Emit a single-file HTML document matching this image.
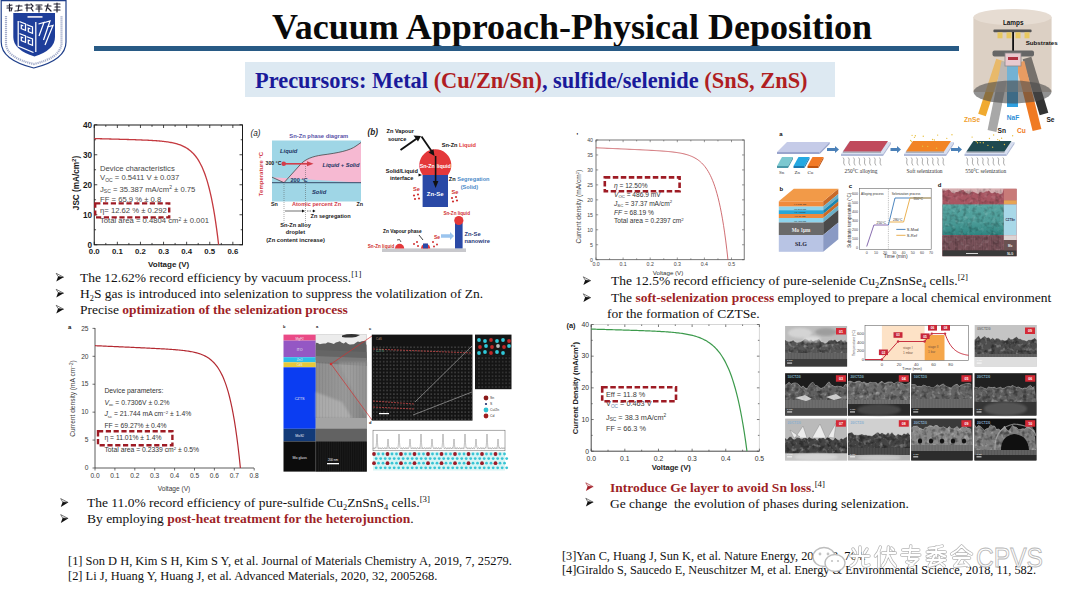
<!DOCTYPE html>
<html><head><meta charset="utf-8">
<style>
*{margin:0;padding:0;box-sizing:border-box}
html,body{width:1080px;height:608px;overflow:hidden;background:#fff}
body{position:relative;font-family:"Liberation Serif",serif;color:#111}
.a{position:absolute;white-space:nowrap}
#g{position:absolute;left:0;top:0;width:1080px;height:608px}
.t{font-size:13.5px;line-height:16px}
.rf{font-size:12.45px;line-height:15px}
.rf2{font-size:12.3px;line-height:15px}
.r{color:#9e1f27;font-weight:bold}
sub{font-size:62%;vertical-align:-3px;line-height:0}
sup{font-size:65%;vertical-align:5px;line-height:0}
</style></head><body>
<svg id="g" width="1080" height="608" viewBox="0 0 1080 608">
<defs>
<g id="arw"><path d="M0.3,0.3 L7.7,4.2 L2.2,3.6 Z" fill="none" stroke="#333" stroke-width="0.65"/><path d="M7.7,4.2 L0.4,8.6 L2.2,3.6 Z" fill="#111"/></g>
<g id="arwr"><path d="M0.3,0.3 L7.7,4.2 L2.2,3.6 Z" fill="none" stroke="#a31f28" stroke-width="0.65"/><path d="M7.7,4.2 L0.4,8.6 L2.2,3.6 Z" fill="#a31f28"/></g>
<filter id="grain" x="0" y="0" width="1" height="1"><feTurbulence type="fractalNoise" baseFrequency="0.22" numOctaves="2" seed="3"/><feColorMatrix type="matrix" values="0 0 0 0 0  0 0 0 0 0  0 0 0 0 0  3 0 0 0 -1.35"/><feGaussianBlur stdDeviation="0.45"/></filter>
<filter id="grainw" x="0" y="0" width="1" height="1"><feTurbulence type="fractalNoise" baseFrequency="0.25" numOctaves="2" seed="9"/><feColorMatrix type="matrix" values="0 0 0 0 1  0 0 0 0 1  0 0 0 0 1  0 3 0 0 -1.6"/><feGaussianBlur stdDeviation="0.45"/></filter>
<filter id="blur1"><feGaussianBlur stdDeviation="0.6"/></filter>
<filter id="blur2"><feGaussianBlur stdDeviation="1.2"/></filter>
</defs>
<g transform="translate(55.9,273)"><path d="M0.3,0.3 L7.7,4.2 L2.2,3.6 Z" fill="none" stroke="#333" stroke-width="0.65"/><path d="M7.7,4.2 L0.4,8.6 L2.2,3.6 Z" fill="#111"/></g>
<g transform="translate(55.9,289)"><path d="M0.3,0.3 L7.7,4.2 L2.2,3.6 Z" fill="none" stroke="#333" stroke-width="0.65"/><path d="M7.7,4.2 L0.4,8.6 L2.2,3.6 Z" fill="#111"/></g>
<g transform="translate(55.9,305)"><path d="M0.3,0.3 L7.7,4.2 L2.2,3.6 Z" fill="none" stroke="#333" stroke-width="0.65"/><path d="M7.7,4.2 L0.4,8.6 L2.2,3.6 Z" fill="#111"/></g>
<g transform="translate(60.4,498.3)"><path d="M0.3,0.3 L7.7,4.2 L2.2,3.6 Z" fill="none" stroke="#333" stroke-width="0.65"/><path d="M7.7,4.2 L0.4,8.6 L2.2,3.6 Z" fill="#111"/></g>
<g transform="translate(60.4,514.3)"><path d="M0.3,0.3 L7.7,4.2 L2.2,3.6 Z" fill="none" stroke="#333" stroke-width="0.65"/><path d="M7.7,4.2 L0.4,8.6 L2.2,3.6 Z" fill="#111"/></g>
<g transform="translate(583,276.5)"><path d="M0.3,0.3 L7.7,4.2 L2.2,3.6 Z" fill="none" stroke="#333" stroke-width="0.65"/><path d="M7.7,4.2 L0.4,8.6 L2.2,3.6 Z" fill="#111"/></g>
<g transform="translate(583,293.5)"><path d="M0.3,0.3 L7.7,4.2 L2.2,3.6 Z" fill="none" stroke="#333" stroke-width="0.65"/><path d="M7.7,4.2 L0.4,8.6 L2.2,3.6 Z" fill="#111"/></g>
<g transform="translate(585.5,482.5)"><path d="M0.3,0.3 L7.7,4.2 L2.2,3.6 Z" fill="none" stroke="#a31f28" stroke-width="0.65"/><path d="M7.7,4.2 L0.4,8.6 L2.2,3.6 Z" fill="#a31f28"/></g>
<g transform="translate(585.5,498)"><path d="M0.3,0.3 L7.7,4.2 L2.2,3.6 Z" fill="none" stroke="#333" stroke-width="0.65"/><path d="M7.7,4.2 L0.4,8.6 L2.2,3.6 Z" fill="#111"/></g>
<rect x="94.25" y="125" width="148.25" height="119.75" fill="none" stroke="#1a1a1a" stroke-width="1"/><line x1="94.25" y1="244.75" x2="94.25" y2="241.75" stroke="#1a1a1a" stroke-width="0.8"/><line x1="94.25" y1="125" x2="94.25" y2="128" stroke="#1a1a1a" stroke-width="0.8"/><line x1="105.8" y1="244.75" x2="105.8" y2="242.95" stroke="#1a1a1a" stroke-width="0.8"/><line x1="105.8" y1="125" x2="105.8" y2="126.8" stroke="#1a1a1a" stroke-width="0.8"/><line x1="117.35" y1="244.75" x2="117.35" y2="241.75" stroke="#1a1a1a" stroke-width="0.8"/><line x1="117.35" y1="125" x2="117.35" y2="128" stroke="#1a1a1a" stroke-width="0.8"/><line x1="128.9" y1="244.75" x2="128.9" y2="242.95" stroke="#1a1a1a" stroke-width="0.8"/><line x1="128.9" y1="125" x2="128.9" y2="126.8" stroke="#1a1a1a" stroke-width="0.8"/><line x1="140.45" y1="244.75" x2="140.45" y2="241.75" stroke="#1a1a1a" stroke-width="0.8"/><line x1="140.45" y1="125" x2="140.45" y2="128" stroke="#1a1a1a" stroke-width="0.8"/><line x1="152" y1="244.75" x2="152" y2="242.95" stroke="#1a1a1a" stroke-width="0.8"/><line x1="152" y1="125" x2="152" y2="126.8" stroke="#1a1a1a" stroke-width="0.8"/><line x1="163.55" y1="244.75" x2="163.55" y2="241.75" stroke="#1a1a1a" stroke-width="0.8"/><line x1="163.55" y1="125" x2="163.55" y2="128" stroke="#1a1a1a" stroke-width="0.8"/><line x1="175.1" y1="244.75" x2="175.1" y2="242.95" stroke="#1a1a1a" stroke-width="0.8"/><line x1="175.1" y1="125" x2="175.1" y2="126.8" stroke="#1a1a1a" stroke-width="0.8"/><line x1="186.65" y1="244.75" x2="186.65" y2="241.75" stroke="#1a1a1a" stroke-width="0.8"/><line x1="186.65" y1="125" x2="186.65" y2="128" stroke="#1a1a1a" stroke-width="0.8"/><line x1="198.2" y1="244.75" x2="198.2" y2="242.95" stroke="#1a1a1a" stroke-width="0.8"/><line x1="198.2" y1="125" x2="198.2" y2="126.8" stroke="#1a1a1a" stroke-width="0.8"/><line x1="209.75" y1="244.75" x2="209.75" y2="241.75" stroke="#1a1a1a" stroke-width="0.8"/><line x1="209.75" y1="125" x2="209.75" y2="128" stroke="#1a1a1a" stroke-width="0.8"/><line x1="221.3" y1="244.75" x2="221.3" y2="242.95" stroke="#1a1a1a" stroke-width="0.8"/><line x1="221.3" y1="125" x2="221.3" y2="126.8" stroke="#1a1a1a" stroke-width="0.8"/><line x1="232.85" y1="244.75" x2="232.85" y2="241.75" stroke="#1a1a1a" stroke-width="0.8"/><line x1="232.85" y1="125" x2="232.85" y2="128" stroke="#1a1a1a" stroke-width="0.8"/><line x1="94.25" y1="244.75" x2="97.25" y2="244.75" stroke="#1a1a1a" stroke-width="0.8"/><line x1="242.5" y1="244.75" x2="239.5" y2="244.75" stroke="#1a1a1a" stroke-width="0.8"/><line x1="94.25" y1="229.75" x2="96.05" y2="229.75" stroke="#1a1a1a" stroke-width="0.8"/><line x1="242.5" y1="229.75" x2="240.7" y2="229.75" stroke="#1a1a1a" stroke-width="0.8"/><line x1="94.25" y1="214.75" x2="97.25" y2="214.75" stroke="#1a1a1a" stroke-width="0.8"/><line x1="242.5" y1="214.75" x2="239.5" y2="214.75" stroke="#1a1a1a" stroke-width="0.8"/><line x1="94.25" y1="199.75" x2="96.05" y2="199.75" stroke="#1a1a1a" stroke-width="0.8"/><line x1="242.5" y1="199.75" x2="240.7" y2="199.75" stroke="#1a1a1a" stroke-width="0.8"/><line x1="94.25" y1="184.75" x2="97.25" y2="184.75" stroke="#1a1a1a" stroke-width="0.8"/><line x1="242.5" y1="184.75" x2="239.5" y2="184.75" stroke="#1a1a1a" stroke-width="0.8"/><line x1="94.25" y1="169.75" x2="96.05" y2="169.75" stroke="#1a1a1a" stroke-width="0.8"/><line x1="242.5" y1="169.75" x2="240.7" y2="169.75" stroke="#1a1a1a" stroke-width="0.8"/><line x1="94.25" y1="154.75" x2="97.25" y2="154.75" stroke="#1a1a1a" stroke-width="0.8"/><line x1="242.5" y1="154.75" x2="239.5" y2="154.75" stroke="#1a1a1a" stroke-width="0.8"/><line x1="94.25" y1="139.75" x2="96.05" y2="139.75" stroke="#1a1a1a" stroke-width="0.8"/><line x1="242.5" y1="139.75" x2="240.7" y2="139.75" stroke="#1a1a1a" stroke-width="0.8"/><line x1="94.25" y1="124.75" x2="97.25" y2="124.75" stroke="#1a1a1a" stroke-width="0.8"/><line x1="242.5" y1="124.75" x2="239.5" y2="124.75" stroke="#1a1a1a" stroke-width="0.8"/><text x="92" y="247.65" font-size="8.2" fill="#1a1a1a" text-anchor="end" font-weight="bold" font-style="normal" font-family="Liberation Sans" >0</text><text x="92" y="217.65" font-size="8.2" fill="#1a1a1a" text-anchor="end" font-weight="bold" font-style="normal" font-family="Liberation Sans" >10</text><text x="92" y="187.65" font-size="8.2" fill="#1a1a1a" text-anchor="end" font-weight="bold" font-style="normal" font-family="Liberation Sans" >20</text><text x="92" y="157.65" font-size="8.2" fill="#1a1a1a" text-anchor="end" font-weight="bold" font-style="normal" font-family="Liberation Sans" >30</text><text x="92" y="127.65" font-size="8.2" fill="#1a1a1a" text-anchor="end" font-weight="bold" font-style="normal" font-family="Liberation Sans" >40</text><text x="94.25" y="254" font-size="7.8" fill="#1a1a1a" text-anchor="middle" font-weight="bold" font-style="normal" font-family="Liberation Sans" >0.0</text><text x="117.35" y="254" font-size="7.8" fill="#1a1a1a" text-anchor="middle" font-weight="bold" font-style="normal" font-family="Liberation Sans" >0.1</text><text x="140.45" y="254" font-size="7.8" fill="#1a1a1a" text-anchor="middle" font-weight="bold" font-style="normal" font-family="Liberation Sans" >0.2</text><text x="163.55" y="254" font-size="7.8" fill="#1a1a1a" text-anchor="middle" font-weight="bold" font-style="normal" font-family="Liberation Sans" >0.3</text><text x="186.65" y="254" font-size="7.8" fill="#1a1a1a" text-anchor="middle" font-weight="bold" font-style="normal" font-family="Liberation Sans" >0.4</text><text x="209.75" y="254" font-size="7.8" fill="#1a1a1a" text-anchor="middle" font-weight="bold" font-style="normal" font-family="Liberation Sans" >0.5</text><text x="232.85" y="254" font-size="7.8" fill="#1a1a1a" text-anchor="middle" font-weight="bold" font-style="normal" font-family="Liberation Sans" >0.6</text><text x="168.7" y="266.8" font-size="8" fill="#1a1a1a" text-anchor="middle" font-weight="bold" font-style="normal" font-family="Liberation Sans" >Voltage (V)</text><g transform="translate(79,183) rotate(-90)"><text x="0" y="0" font-size="8.2" fill="#1a1a1a" text-anchor="middle" font-weight="bold" font-style="normal" font-family="Liberation Sans" >JSC (mA/cm<tspan dy="-3" font-size="6">2</tspan><tspan dy="3">)</tspan></text></g><path d="M94.25,138.58 L95.29,138.61 L96.32,138.63 L97.36,138.66 L98.4,138.69 L99.43,138.72 L100.47,138.74 L101.5,138.77 L102.54,138.8 L103.58,138.83 L104.61,138.85 L105.65,138.88 L106.69,138.91 L107.72,138.94 L108.76,138.97 L109.8,138.99 L110.83,139.02 L111.87,139.05 L112.91,139.08 L113.94,139.11 L114.98,139.14 L116.01,139.16 L117.05,139.19 L118.09,139.22 L119.12,139.25 L120.16,139.28 L121.2,139.31 L122.23,139.34 L123.27,139.37 L124.31,139.4 L125.34,139.43 L126.38,139.46 L127.42,139.49 L128.45,139.52 L129.49,139.56 L130.52,139.59 L131.56,139.62 L132.6,139.65 L133.63,139.69 L134.67,139.72 L135.71,139.76 L136.74,139.8 L137.78,139.83 L138.82,139.87 L139.85,139.91 L140.89,139.95 L141.92,139.99 L142.96,140.03 L144,140.08 L145.03,140.12 L146.07,140.17 L147.11,140.22 L148.14,140.27 L149.18,140.32 L150.22,140.37 L151.25,140.43 L152.29,140.49 L153.33,140.56 L154.36,140.62 L155.4,140.69 L156.43,140.77 L157.47,140.84 L158.51,140.93 L159.54,141.02 L160.58,141.11 L161.62,141.21 L162.65,141.32 L163.69,141.43 L164.73,141.55 L165.76,141.68 L166.8,141.82 L167.84,141.97 L168.87,142.13 L169.91,142.3 L170.94,142.49 L171.98,142.68 L173.02,142.9 L174.05,143.13 L175.09,143.38 L176.13,143.66 L177.16,143.95 L178.2,144.27 L179.24,144.61 L180.27,144.98 L181.31,145.39 L182.34,145.82 L183.38,146.3 L184.42,146.82 L185.45,147.38 L186.49,147.98 L187.53,148.65 L188.56,149.36 L189.6,150.15 L190.64,150.99 L191.67,151.92 L192.71,152.92 L193.75,154.02 L194.78,155.21 L195.82,156.5 L196.85,157.92 L197.89,159.45 L198.93,161.12 L199.96,162.95 L201,164.93 L202.04,167.09 L203.07,169.45 L204.11,172.01 L205.15,174.81 L206.18,177.86 L207.22,181.18 L208.26,184.8 L209.29,188.74 L210.33,193.04 L211.36,197.73 L212.4,202.84 L213.44,208.4 L214.47,214.47 L215.51,221.09 L216.55,228.31 L217.58,236.17 L218.62,244.75" fill="none" stroke="#c4393f" stroke-width="1.3"/><text x="100" y="171.2" font-size="7.7" fill="#474747" text-anchor="start" font-weight="normal" font-style="normal" font-family="Liberation Sans" >Device characteristics</text><text x="100" y="180.2" font-size="7.7" fill="#474747" text-anchor="start" font-weight="normal" font-style="normal" font-family="Liberation Sans" >V<tspan font-size="5" dy="1.8">OC</tspan><tspan dy="-1.8"> = 0.5411 V ± 0.037</tspan></text><text x="100" y="191.6" font-size="7.7" fill="#474747" text-anchor="start" font-weight="normal" font-style="normal" font-family="Liberation Sans" >J<tspan font-size="5" dy="1.8">SC</tspan><tspan dy="-1.8"> = 35.387 mA/cm</tspan><tspan font-size="5" dy="-2.5">2</tspan><tspan dy="2.5"> ± 0.75</tspan></text><text x="100" y="201.8" font-size="7.7" fill="#474747" text-anchor="start" font-weight="normal" font-style="normal" font-family="Liberation Sans" >FF = 65.9 % ± 0.8</text><text x="100" y="212.6" font-size="7.7" fill="#474747" text-anchor="start" font-weight="normal" font-style="normal" font-family="Liberation Sans" >η= 12.62 % ± 0.292</text><text x="100" y="223.2" font-size="7.7" fill="#474747" text-anchor="start" font-weight="normal" font-style="normal" font-family="Liberation Sans" >Total area = 0.4804 cm<tspan font-size="5" dy="-2.5">2</tspan><tspan dy="2.5"> ± 0.001</tspan></text><rect x="95.2" y="203.4" width="74" height="14" fill="none" stroke="#9e1b24" stroke-width="2.4" stroke-dasharray="5.2,2.6"/>
<path d="M95,328 L95,468 L254,468" fill="none" stroke="#333" stroke-width="0.8"/><line x1="92.5" y1="468" x2="95" y2="468" stroke="#333" stroke-width="0.7"/><text x="88.5" y="470.2" font-size="6.6" fill="#3a3a3a" text-anchor="end" font-weight="normal" font-style="normal" font-family="Liberation Sans" >0</text><line x1="92.5" y1="440.07" x2="95" y2="440.07" stroke="#333" stroke-width="0.7"/><text x="88.5" y="442.27" font-size="6.6" fill="#3a3a3a" text-anchor="end" font-weight="normal" font-style="normal" font-family="Liberation Sans" >5</text><line x1="92.5" y1="412.15" x2="95" y2="412.15" stroke="#333" stroke-width="0.7"/><text x="88.5" y="414.35" font-size="6.6" fill="#3a3a3a" text-anchor="end" font-weight="normal" font-style="normal" font-family="Liberation Sans" >10</text><line x1="92.5" y1="384.23" x2="95" y2="384.23" stroke="#333" stroke-width="0.7"/><text x="88.5" y="386.43" font-size="6.6" fill="#3a3a3a" text-anchor="end" font-weight="normal" font-style="normal" font-family="Liberation Sans" >15</text><line x1="92.5" y1="356.3" x2="95" y2="356.3" stroke="#333" stroke-width="0.7"/><text x="88.5" y="358.5" font-size="6.6" fill="#3a3a3a" text-anchor="end" font-weight="normal" font-style="normal" font-family="Liberation Sans" >20</text><line x1="92.5" y1="328.38" x2="95" y2="328.38" stroke="#333" stroke-width="0.7"/><text x="88.5" y="330.57" font-size="6.6" fill="#3a3a3a" text-anchor="end" font-weight="normal" font-style="normal" font-family="Liberation Sans" >25</text><line x1="95" y1="468" x2="95" y2="470.5" stroke="#333" stroke-width="0.7"/><text x="95" y="477.5" font-size="6.6" fill="#3a3a3a" text-anchor="middle" font-weight="normal" font-style="normal" font-family="Liberation Sans" >0.0</text><line x1="114.9" y1="468" x2="114.9" y2="470.5" stroke="#333" stroke-width="0.7"/><text x="114.9" y="477.5" font-size="6.6" fill="#3a3a3a" text-anchor="middle" font-weight="normal" font-style="normal" font-family="Liberation Sans" >0.1</text><line x1="134.8" y1="468" x2="134.8" y2="470.5" stroke="#333" stroke-width="0.7"/><text x="134.8" y="477.5" font-size="6.6" fill="#3a3a3a" text-anchor="middle" font-weight="normal" font-style="normal" font-family="Liberation Sans" >0.2</text><line x1="154.7" y1="468" x2="154.7" y2="470.5" stroke="#333" stroke-width="0.7"/><text x="154.7" y="477.5" font-size="6.6" fill="#3a3a3a" text-anchor="middle" font-weight="normal" font-style="normal" font-family="Liberation Sans" >0.3</text><line x1="174.6" y1="468" x2="174.6" y2="470.5" stroke="#333" stroke-width="0.7"/><text x="174.6" y="477.5" font-size="6.6" fill="#3a3a3a" text-anchor="middle" font-weight="normal" font-style="normal" font-family="Liberation Sans" >0.4</text><line x1="194.5" y1="468" x2="194.5" y2="470.5" stroke="#333" stroke-width="0.7"/><text x="194.5" y="477.5" font-size="6.6" fill="#3a3a3a" text-anchor="middle" font-weight="normal" font-style="normal" font-family="Liberation Sans" >0.5</text><line x1="214.4" y1="468" x2="214.4" y2="470.5" stroke="#333" stroke-width="0.7"/><text x="214.4" y="477.5" font-size="6.6" fill="#3a3a3a" text-anchor="middle" font-weight="normal" font-style="normal" font-family="Liberation Sans" >0.6</text><line x1="234.3" y1="468" x2="234.3" y2="470.5" stroke="#333" stroke-width="0.7"/><text x="234.3" y="477.5" font-size="6.6" fill="#3a3a3a" text-anchor="middle" font-weight="normal" font-style="normal" font-family="Liberation Sans" >0.7</text><line x1="254.2" y1="468" x2="254.2" y2="470.5" stroke="#333" stroke-width="0.7"/><text x="254.2" y="477.5" font-size="6.6" fill="#3a3a3a" text-anchor="middle" font-weight="normal" font-style="normal" font-family="Liberation Sans" >0.8</text><text x="174" y="490.5" font-size="6.6" fill="#3a3a3a" text-anchor="middle" font-weight="normal" font-style="normal" font-family="Liberation Sans" >Voltage (V)</text><g transform="translate(75,398.5) rotate(-90)"><text x="0" y="0" font-size="6.6" fill="#3a3a3a" text-anchor="middle" font-weight="normal" font-style="normal" font-family="Liberation Sans" >Current density (mA cm<tspan dy="-2.5" font-size="4.6">−2</tspan><tspan dy="2.5">)</tspan></text></g><text x="68" y="328.5" font-size="6" fill="#111" text-anchor="start" font-weight="bold" font-style="normal" font-family="Liberation Sans" >a</text><path d="M95,345.69 L96.21,345.74 L97.42,345.8 L98.63,345.85 L99.85,345.91 L101.06,345.96 L102.27,346.02 L103.48,346.07 L104.69,346.12 L105.9,346.18 L107.12,346.23 L108.33,346.29 L109.54,346.34 L110.75,346.4 L111.96,346.45 L113.17,346.51 L114.39,346.56 L115.6,346.62 L116.81,346.67 L118.02,346.72 L119.23,346.78 L120.44,346.83 L121.65,346.89 L122.87,346.94 L124.08,347 L125.29,347.05 L126.5,347.11 L127.71,347.16 L128.92,347.22 L130.14,347.27 L131.35,347.33 L132.56,347.38 L133.77,347.44 L134.98,347.5 L136.19,347.55 L137.41,347.61 L138.62,347.66 L139.83,347.72 L141.04,347.78 L142.25,347.83 L143.46,347.89 L144.67,347.95 L145.89,348.01 L147.1,348.06 L148.31,348.12 L149.52,348.18 L150.73,348.24 L151.94,348.3 L153.16,348.36 L154.37,348.42 L155.58,348.48 L156.79,348.55 L158,348.61 L159.21,348.67 L160.43,348.74 L161.64,348.81 L162.85,348.87 L164.06,348.94 L165.27,349.02 L166.48,349.09 L167.69,349.17 L168.91,349.24 L170.12,349.32 L171.33,349.41 L172.54,349.49 L173.75,349.58 L174.96,349.68 L176.18,349.78 L177.39,349.88 L178.6,349.99 L179.81,350.1 L181.02,350.23 L182.23,350.36 L183.45,350.49 L184.66,350.64 L185.87,350.8 L187.08,350.97 L188.29,351.15 L189.5,351.34 L190.71,351.55 L191.93,351.78 L193.14,352.03 L194.35,352.29 L195.56,352.59 L196.77,352.9 L197.98,353.25 L199.2,353.63 L200.41,354.05 L201.62,354.5 L202.83,355 L204.04,355.55 L205.25,356.15 L206.47,356.82 L207.68,357.55 L208.89,358.36 L210.1,359.25 L211.31,360.23 L212.52,361.32 L213.73,362.52 L214.95,363.85 L216.16,365.32 L217.37,366.94 L218.58,368.74 L219.79,370.73 L221,372.94 L222.22,375.38 L223.43,378.09 L224.64,381.09 L225.85,384.42 L227.06,388.11 L228.27,392.2 L229.49,396.74 L230.7,401.78 L231.91,407.37 L233.12,413.57 L234.33,420.45 L235.54,428.08 L236.75,436.56 L237.97,445.97 L239.18,456.41 L240.39,468" fill="none" stroke="#b42a32" stroke-width="1.2"/><text x="104.4" y="393" font-size="6.8" fill="#333" text-anchor="start" font-weight="normal" font-style="normal" font-family="Liberation Sans" >Device parameters:</text><text x="104.4" y="404.6" font-size="6.8" fill="#333" text-anchor="start" font-weight="normal" font-style="normal" font-family="Liberation Sans" ><tspan font-style="italic">V</tspan><tspan font-size="4.3" dy="1.5">oc</tspan><tspan dy="-1.5"> = 0.7306V ± 0.2%</tspan></text><text x="104.4" y="416.4" font-size="6.8" fill="#333" text-anchor="start" font-weight="normal" font-style="normal" font-family="Liberation Sans" ><tspan font-style="italic">J</tspan><tspan font-size="4.3" dy="1.5">sc</tspan><tspan dy="-1.5"> = 21.744 mA cm</tspan><tspan font-size="4.3" dy="-2.4">−2</tspan><tspan dy="2.4"> ± 1.4%</tspan></text><text x="104.4" y="427.6" font-size="6.8" fill="#333" text-anchor="start" font-weight="normal" font-style="normal" font-family="Liberation Sans" >FF = 69.27% ± 0.4%</text><text x="104.4" y="440.2" font-size="6.8" fill="#333" text-anchor="start" font-weight="normal" font-style="normal" font-family="Liberation Sans" >η = 11.01% ± 1.4%</text><text x="104.4" y="452" font-size="6.8" fill="#333" text-anchor="start" font-weight="normal" font-style="normal" font-family="Liberation Sans" >Total area = 0.2339 cm<tspan font-size="4.3" dy="-2.4">2</tspan><tspan dy="2.4"> ± 0.5%</tspan></text><rect x="98" y="431.2" width="74.4" height="14" fill="none" stroke="#9e1b24" stroke-width="2.4" stroke-dasharray="5.2,2.6"/>
<rect x="596" y="140" width="148.2" height="119.7" fill="none" stroke="#555" stroke-width="0.8"/><line x1="596" y1="259.7" x2="596" y2="257.5" stroke="#555" stroke-width="0.6"/><line x1="596" y1="140" x2="596" y2="142.2" stroke="#555" stroke-width="0.6"/><line x1="609.55" y1="259.7" x2="609.55" y2="258.3" stroke="#555" stroke-width="0.6"/><line x1="609.55" y1="140" x2="609.55" y2="141.4" stroke="#555" stroke-width="0.6"/><line x1="623.1" y1="259.7" x2="623.1" y2="257.5" stroke="#555" stroke-width="0.6"/><line x1="623.1" y1="140" x2="623.1" y2="142.2" stroke="#555" stroke-width="0.6"/><line x1="636.65" y1="259.7" x2="636.65" y2="258.3" stroke="#555" stroke-width="0.6"/><line x1="636.65" y1="140" x2="636.65" y2="141.4" stroke="#555" stroke-width="0.6"/><line x1="650.2" y1="259.7" x2="650.2" y2="257.5" stroke="#555" stroke-width="0.6"/><line x1="650.2" y1="140" x2="650.2" y2="142.2" stroke="#555" stroke-width="0.6"/><line x1="663.75" y1="259.7" x2="663.75" y2="258.3" stroke="#555" stroke-width="0.6"/><line x1="663.75" y1="140" x2="663.75" y2="141.4" stroke="#555" stroke-width="0.6"/><line x1="677.3" y1="259.7" x2="677.3" y2="257.5" stroke="#555" stroke-width="0.6"/><line x1="677.3" y1="140" x2="677.3" y2="142.2" stroke="#555" stroke-width="0.6"/><line x1="690.85" y1="259.7" x2="690.85" y2="258.3" stroke="#555" stroke-width="0.6"/><line x1="690.85" y1="140" x2="690.85" y2="141.4" stroke="#555" stroke-width="0.6"/><line x1="704.4" y1="259.7" x2="704.4" y2="257.5" stroke="#555" stroke-width="0.6"/><line x1="704.4" y1="140" x2="704.4" y2="142.2" stroke="#555" stroke-width="0.6"/><line x1="717.95" y1="259.7" x2="717.95" y2="258.3" stroke="#555" stroke-width="0.6"/><line x1="717.95" y1="140" x2="717.95" y2="141.4" stroke="#555" stroke-width="0.6"/><line x1="731.5" y1="259.7" x2="731.5" y2="257.5" stroke="#555" stroke-width="0.6"/><line x1="731.5" y1="140" x2="731.5" y2="142.2" stroke="#555" stroke-width="0.6"/><line x1="596" y1="259.7" x2="598.2" y2="259.7" stroke="#555" stroke-width="0.6"/><line x1="744.2" y1="259.7" x2="742" y2="259.7" stroke="#555" stroke-width="0.6"/><line x1="596" y1="244.74" x2="598.2" y2="244.74" stroke="#555" stroke-width="0.6"/><line x1="744.2" y1="244.74" x2="742" y2="244.74" stroke="#555" stroke-width="0.6"/><line x1="596" y1="229.77" x2="598.2" y2="229.77" stroke="#555" stroke-width="0.6"/><line x1="744.2" y1="229.77" x2="742" y2="229.77" stroke="#555" stroke-width="0.6"/><line x1="596" y1="214.81" x2="598.2" y2="214.81" stroke="#555" stroke-width="0.6"/><line x1="744.2" y1="214.81" x2="742" y2="214.81" stroke="#555" stroke-width="0.6"/><line x1="596" y1="199.85" x2="598.2" y2="199.85" stroke="#555" stroke-width="0.6"/><line x1="744.2" y1="199.85" x2="742" y2="199.85" stroke="#555" stroke-width="0.6"/><line x1="596" y1="184.89" x2="598.2" y2="184.89" stroke="#555" stroke-width="0.6"/><line x1="744.2" y1="184.89" x2="742" y2="184.89" stroke="#555" stroke-width="0.6"/><line x1="596" y1="169.92" x2="598.2" y2="169.92" stroke="#555" stroke-width="0.6"/><line x1="744.2" y1="169.92" x2="742" y2="169.92" stroke="#555" stroke-width="0.6"/><line x1="596" y1="154.96" x2="598.2" y2="154.96" stroke="#555" stroke-width="0.6"/><line x1="744.2" y1="154.96" x2="742" y2="154.96" stroke="#555" stroke-width="0.6"/><line x1="596" y1="140" x2="598.2" y2="140" stroke="#555" stroke-width="0.6"/><line x1="744.2" y1="140" x2="742" y2="140" stroke="#555" stroke-width="0.6"/><text x="593" y="261.5" font-size="5.2" fill="#444" text-anchor="end" font-weight="normal" font-style="normal" font-family="Liberation Sans" >0</text><text x="593" y="246.54" font-size="5.2" fill="#444" text-anchor="end" font-weight="normal" font-style="normal" font-family="Liberation Sans" >5</text><text x="593" y="231.57" font-size="5.2" fill="#444" text-anchor="end" font-weight="normal" font-style="normal" font-family="Liberation Sans" >10</text><text x="593" y="216.61" font-size="5.2" fill="#444" text-anchor="end" font-weight="normal" font-style="normal" font-family="Liberation Sans" >15</text><text x="593" y="201.65" font-size="5.2" fill="#444" text-anchor="end" font-weight="normal" font-style="normal" font-family="Liberation Sans" >20</text><text x="593" y="186.69" font-size="5.2" fill="#444" text-anchor="end" font-weight="normal" font-style="normal" font-family="Liberation Sans" >25</text><text x="593" y="171.72" font-size="5.2" fill="#444" text-anchor="end" font-weight="normal" font-style="normal" font-family="Liberation Sans" >30</text><text x="593" y="156.76" font-size="5.2" fill="#444" text-anchor="end" font-weight="normal" font-style="normal" font-family="Liberation Sans" >35</text><text x="593" y="141.8" font-size="5.2" fill="#444" text-anchor="end" font-weight="normal" font-style="normal" font-family="Liberation Sans" >40</text><text x="596" y="265.5" font-size="5.2" fill="#444" text-anchor="middle" font-weight="normal" font-style="normal" font-family="Liberation Sans" >0.0</text><text x="623.1" y="265.5" font-size="5.2" fill="#444" text-anchor="middle" font-weight="normal" font-style="normal" font-family="Liberation Sans" >0.1</text><text x="650.2" y="265.5" font-size="5.2" fill="#444" text-anchor="middle" font-weight="normal" font-style="normal" font-family="Liberation Sans" >0.2</text><text x="677.3" y="265.5" font-size="5.2" fill="#444" text-anchor="middle" font-weight="normal" font-style="normal" font-family="Liberation Sans" >0.3</text><text x="704.4" y="265.5" font-size="5.2" fill="#444" text-anchor="middle" font-weight="normal" font-style="normal" font-family="Liberation Sans" >0.4</text><text x="731.5" y="265.5" font-size="5.2" fill="#444" text-anchor="middle" font-weight="normal" font-style="normal" font-family="Liberation Sans" >0.5</text><text x="668" y="274.6" font-size="6.2" fill="#333" text-anchor="middle" font-weight="normal" font-style="normal" font-family="Liberation Sans" >Voltage (V)</text><g transform="translate(581.2,206.6) rotate(-90)"><text x="0" y="0" font-size="6.6" fill="#444" text-anchor="middle" font-weight="normal" font-style="normal" font-family="Liberation Sans" >Current density (mA/cm<tspan dy="-2.3" font-size="4.3">2</tspan><tspan dy="2.3">)</tspan></text></g><text x="576.5" y="138" font-size="7" fill="#111" text-anchor="start" font-weight="bold" font-style="normal" font-family="Liberation Sans" >'</text><path d="M596,147.78 L597.1,147.83 L598.2,147.88 L599.3,147.93 L600.4,147.98 L601.5,148.02 L602.6,148.07 L603.7,148.12 L604.8,148.17 L605.9,148.22 L607,148.27 L608.1,148.32 L609.19,148.37 L610.29,148.41 L611.39,148.46 L612.49,148.51 L613.59,148.56 L614.69,148.61 L615.79,148.66 L616.89,148.71 L617.99,148.76 L619.09,148.81 L620.19,148.86 L621.29,148.91 L622.39,148.96 L623.49,149 L624.59,149.05 L625.69,149.1 L626.79,149.15 L627.89,149.2 L628.99,149.25 L630.09,149.3 L631.19,149.36 L632.29,149.41 L633.39,149.46 L634.49,149.51 L635.58,149.56 L636.68,149.61 L637.78,149.66 L638.88,149.72 L639.98,149.77 L641.08,149.82 L642.18,149.88 L643.28,149.93 L644.38,149.99 L645.48,150.04 L646.58,150.1 L647.68,150.15 L648.78,150.21 L649.88,150.27 L650.98,150.33 L652.08,150.39 L653.18,150.45 L654.28,150.52 L655.38,150.58 L656.48,150.65 L657.58,150.72 L658.68,150.79 L659.78,150.86 L660.88,150.94 L661.97,151.02 L663.07,151.1 L664.17,151.18 L665.27,151.27 L666.37,151.36 L667.47,151.46 L668.57,151.56 L669.67,151.67 L670.77,151.78 L671.87,151.9 L672.97,152.03 L674.07,152.16 L675.17,152.3 L676.27,152.46 L677.37,152.62 L678.47,152.8 L679.57,152.98 L680.67,153.18 L681.77,153.4 L682.87,153.64 L683.97,153.89 L685.07,154.16 L686.17,154.46 L687.27,154.78 L688.36,155.13 L689.46,155.52 L690.56,155.93 L691.66,156.38 L692.76,156.87 L693.86,157.41 L694.96,158 L696.06,158.64 L697.16,159.34 L698.26,160.11 L699.36,160.95 L700.46,161.87 L701.56,162.88 L702.66,163.99 L703.76,165.21 L704.86,166.54 L705.96,168 L707.06,169.61 L708.16,171.37 L709.26,173.31 L710.36,175.45 L711.46,177.79 L712.56,180.36 L713.66,183.19 L714.75,186.31 L715.85,189.73 L716.95,193.5 L718.05,197.64 L719.15,202.2 L720.25,207.22 L721.35,212.74 L722.45,218.81 L723.55,225.5 L724.65,232.86 L725.75,240.96 L726.85,249.88 L727.95,259.7" fill="none" stroke="#c44a50" stroke-width="0.8"/><text x="614" y="188.4" font-size="6.6" fill="#333" text-anchor="start" font-weight="normal" font-style="normal" font-family="Liberation Sans" ><tspan font-style="italic">η</tspan> = 12.50%</text><text x="614" y="196.6" font-size="6.6" fill="#333" text-anchor="start" font-weight="normal" font-style="normal" font-family="Liberation Sans" ><tspan font-style="italic">V</tspan><tspan font-size="4.3" dy="1.5">OC</tspan><tspan dy="-1.5"> = 486.9 mV</tspan></text><text x="614" y="205.6" font-size="6.6" fill="#333" text-anchor="start" font-weight="normal" font-style="normal" font-family="Liberation Sans" ><tspan font-style="italic">J</tspan><tspan font-size="4.3" dy="1.5">SC</tspan><tspan dy="-1.5"> = 37.37 mA/cm</tspan><tspan font-size="4.3" dy="-2.4">2</tspan><tspan dy="2.4"></tspan></text><text x="614" y="214.7" font-size="6.6" fill="#333" text-anchor="start" font-weight="normal" font-style="normal" font-family="Liberation Sans" ><tspan font-style="italic">FF</tspan> = 68.19 %</text><text x="614" y="223.1" font-size="6.6" fill="#333" text-anchor="start" font-weight="normal" font-style="normal" font-family="Liberation Sans" >Total area = 0.2397 cm<tspan font-size="4.3" dy="-2.4">2</tspan></text><rect x="604.8" y="177.4" width="74.8" height="13.8" fill="none" stroke="#9e1b24" stroke-width="2.6" stroke-dasharray="5.5,2.5"/>
<path d="M591.2,324.5 L591.2,451.2 L759.4,451.2" fill="none" stroke="#333" stroke-width="0.9"/><path d="M591.2,324.5 L759.4,324.5 L759.4,451.2" fill="none" stroke="#bbb" stroke-width="0.6"/><line x1="591.2" y1="451.2" x2="591.2" y2="448.7" stroke="#444" stroke-width="0.7"/><line x1="591.2" y1="324.5" x2="591.2" y2="327" stroke="#444" stroke-width="0.7"/><line x1="608.02" y1="451.2" x2="608.02" y2="449.7" stroke="#444" stroke-width="0.7"/><line x1="608.02" y1="324.5" x2="608.02" y2="326" stroke="#444" stroke-width="0.7"/><line x1="624.84" y1="451.2" x2="624.84" y2="448.7" stroke="#444" stroke-width="0.7"/><line x1="624.84" y1="324.5" x2="624.84" y2="327" stroke="#444" stroke-width="0.7"/><line x1="641.66" y1="451.2" x2="641.66" y2="449.7" stroke="#444" stroke-width="0.7"/><line x1="641.66" y1="324.5" x2="641.66" y2="326" stroke="#444" stroke-width="0.7"/><line x1="658.48" y1="451.2" x2="658.48" y2="448.7" stroke="#444" stroke-width="0.7"/><line x1="658.48" y1="324.5" x2="658.48" y2="327" stroke="#444" stroke-width="0.7"/><line x1="675.3" y1="451.2" x2="675.3" y2="449.7" stroke="#444" stroke-width="0.7"/><line x1="675.3" y1="324.5" x2="675.3" y2="326" stroke="#444" stroke-width="0.7"/><line x1="692.12" y1="451.2" x2="692.12" y2="448.7" stroke="#444" stroke-width="0.7"/><line x1="692.12" y1="324.5" x2="692.12" y2="327" stroke="#444" stroke-width="0.7"/><line x1="708.94" y1="451.2" x2="708.94" y2="449.7" stroke="#444" stroke-width="0.7"/><line x1="708.94" y1="324.5" x2="708.94" y2="326" stroke="#444" stroke-width="0.7"/><line x1="725.76" y1="451.2" x2="725.76" y2="448.7" stroke="#444" stroke-width="0.7"/><line x1="725.76" y1="324.5" x2="725.76" y2="327" stroke="#444" stroke-width="0.7"/><line x1="742.58" y1="451.2" x2="742.58" y2="449.7" stroke="#444" stroke-width="0.7"/><line x1="742.58" y1="324.5" x2="742.58" y2="326" stroke="#444" stroke-width="0.7"/><line x1="759.4" y1="451.2" x2="759.4" y2="448.7" stroke="#444" stroke-width="0.7"/><line x1="759.4" y1="324.5" x2="759.4" y2="327" stroke="#444" stroke-width="0.7"/><line x1="591.2" y1="451.2" x2="593.7" y2="451.2" stroke="#444" stroke-width="0.7"/><line x1="759.4" y1="451.2" x2="756.9" y2="451.2" stroke="#444" stroke-width="0.7"/><line x1="591.2" y1="435.36" x2="592.7" y2="435.36" stroke="#444" stroke-width="0.7"/><line x1="759.4" y1="435.36" x2="757.9" y2="435.36" stroke="#444" stroke-width="0.7"/><line x1="591.2" y1="419.52" x2="593.7" y2="419.52" stroke="#444" stroke-width="0.7"/><line x1="759.4" y1="419.52" x2="756.9" y2="419.52" stroke="#444" stroke-width="0.7"/><line x1="591.2" y1="403.69" x2="592.7" y2="403.69" stroke="#444" stroke-width="0.7"/><line x1="759.4" y1="403.69" x2="757.9" y2="403.69" stroke="#444" stroke-width="0.7"/><line x1="591.2" y1="387.85" x2="593.7" y2="387.85" stroke="#444" stroke-width="0.7"/><line x1="759.4" y1="387.85" x2="756.9" y2="387.85" stroke="#444" stroke-width="0.7"/><line x1="591.2" y1="372.01" x2="592.7" y2="372.01" stroke="#444" stroke-width="0.7"/><line x1="759.4" y1="372.01" x2="757.9" y2="372.01" stroke="#444" stroke-width="0.7"/><line x1="591.2" y1="356.17" x2="593.7" y2="356.17" stroke="#444" stroke-width="0.7"/><line x1="759.4" y1="356.17" x2="756.9" y2="356.17" stroke="#444" stroke-width="0.7"/><line x1="591.2" y1="340.34" x2="592.7" y2="340.34" stroke="#444" stroke-width="0.7"/><line x1="759.4" y1="340.34" x2="757.9" y2="340.34" stroke="#444" stroke-width="0.7"/><line x1="591.2" y1="324.5" x2="593.7" y2="324.5" stroke="#444" stroke-width="0.7"/><line x1="759.4" y1="324.5" x2="756.9" y2="324.5" stroke="#444" stroke-width="0.7"/><text x="589" y="453.5" font-size="6.8" fill="#333" text-anchor="end" font-weight="normal" font-style="normal" font-family="Liberation Sans" >0</text><text x="589" y="421.82" font-size="6.8" fill="#333" text-anchor="end" font-weight="normal" font-style="normal" font-family="Liberation Sans" >10</text><text x="589" y="390.15" font-size="6.8" fill="#333" text-anchor="end" font-weight="normal" font-style="normal" font-family="Liberation Sans" >20</text><text x="589" y="358.47" font-size="6.8" fill="#333" text-anchor="end" font-weight="normal" font-style="normal" font-family="Liberation Sans" >30</text><text x="589" y="326.8" font-size="6.8" fill="#333" text-anchor="end" font-weight="normal" font-style="normal" font-family="Liberation Sans" >40</text><text x="591.2" y="460.5" font-size="6.8" fill="#333" text-anchor="middle" font-weight="normal" font-style="normal" font-family="Liberation Sans" >0.0</text><text x="624.84" y="460.5" font-size="6.8" fill="#333" text-anchor="middle" font-weight="normal" font-style="normal" font-family="Liberation Sans" >0.1</text><text x="658.48" y="460.5" font-size="6.8" fill="#333" text-anchor="middle" font-weight="normal" font-style="normal" font-family="Liberation Sans" >0.2</text><text x="692.12" y="460.5" font-size="6.8" fill="#333" text-anchor="middle" font-weight="normal" font-style="normal" font-family="Liberation Sans" >0.3</text><text x="725.76" y="460.5" font-size="6.8" fill="#333" text-anchor="middle" font-weight="normal" font-style="normal" font-family="Liberation Sans" >0.4</text><text x="759.4" y="460.5" font-size="6.8" fill="#333" text-anchor="middle" font-weight="normal" font-style="normal" font-family="Liberation Sans" >0.5</text><text x="671.2" y="470.4" font-size="7.6" fill="#222" text-anchor="middle" font-weight="bold" font-style="normal" font-family="Liberation Sans" >Voltage (V)</text><g transform="translate(577.6,388) rotate(-90)"><text x="0" y="0" font-size="7.6" fill="#222" text-anchor="middle" font-weight="bold" font-style="normal" font-family="Liberation Sans" >Current Density (mA/cm<tspan dy="-2.6" font-size="5">2</tspan><tspan dy="2.6">)</tspan></text></g><text x="566.5" y="327.6" font-size="7.4" fill="#222" text-anchor="start" font-weight="bold" font-style="normal" font-family="Liberation Sans" >(a)</text><path d="M591.2,329.09 L592.5,329.13 L593.8,329.17 L595.09,329.2 L596.39,329.24 L597.69,329.28 L598.99,329.32 L600.29,329.35 L601.58,329.39 L602.88,329.43 L604.18,329.47 L605.48,329.5 L606.78,329.54 L608.07,329.58 L609.37,329.62 L610.67,329.66 L611.97,329.69 L613.27,329.73 L614.56,329.77 L615.86,329.81 L617.16,329.85 L618.46,329.89 L619.75,329.93 L621.05,329.97 L622.35,330.01 L623.65,330.05 L624.95,330.09 L626.24,330.13 L627.54,330.17 L628.84,330.21 L630.14,330.25 L631.44,330.29 L632.73,330.33 L634.03,330.38 L635.33,330.42 L636.63,330.47 L637.93,330.51 L639.22,330.56 L640.52,330.6 L641.82,330.65 L643.12,330.7 L644.42,330.75 L645.71,330.8 L647.01,330.85 L648.31,330.9 L649.61,330.96 L650.91,331.01 L652.2,331.07 L653.5,331.13 L654.8,331.19 L656.1,331.25 L657.4,331.32 L658.69,331.39 L659.99,331.46 L661.29,331.53 L662.59,331.61 L663.88,331.69 L665.18,331.77 L666.48,331.86 L667.78,331.96 L669.08,332.06 L670.37,332.16 L671.67,332.27 L672.97,332.39 L674.27,332.51 L675.57,332.64 L676.86,332.78 L678.16,332.93 L679.46,333.08 L680.76,333.25 L682.06,333.43 L683.35,333.62 L684.65,333.83 L685.95,334.05 L687.25,334.29 L688.55,334.54 L689.84,334.81 L691.14,335.11 L692.44,335.42 L693.74,335.76 L695.04,336.13 L696.33,336.53 L697.63,336.95 L698.93,337.42 L700.23,337.91 L701.53,338.45 L702.82,339.04 L704.12,339.67 L705.42,340.35 L706.72,341.09 L708.01,341.89 L709.31,342.76 L710.61,343.7 L711.91,344.72 L713.21,345.83 L714.5,347.03 L715.8,348.33 L717.1,349.74 L718.4,351.28 L719.7,352.94 L720.99,354.75 L722.29,356.71 L723.59,358.84 L724.89,361.15 L726.19,363.66 L727.48,366.39 L728.78,369.35 L730.08,372.57 L731.38,376.07 L732.68,379.87 L733.97,384 L735.27,388.49 L736.57,393.37 L737.87,398.67 L739.17,404.43 L740.46,410.69 L741.76,417.5 L743.06,424.9 L744.36,432.95 L745.66,441.69 L746.95,451.2" fill="none" stroke="#3c9a4c" stroke-width="1.2"/><text x="606" y="397.4" font-size="7.3" fill="#3a3a3a" text-anchor="start" font-weight="normal" font-style="normal" font-family="Liberation Sans" >Eff = 11.8 %</text><text x="606" y="406.3" font-size="7.3" fill="#3a3a3a" text-anchor="start" font-weight="normal" font-style="normal" font-family="Liberation Sans" >V<tspan font-size="4.8" dy="1.6" fill="#6a8ab0">OC</tspan><tspan dy="-1.6"> = 0.463 V</tspan></text><text x="606" y="419.6" font-size="7.3" fill="#3a3a3a" text-anchor="start" font-weight="normal" font-style="normal" font-family="Liberation Sans" >J<tspan font-size="4.8" dy="1.6">SC</tspan><tspan dy="-1.6"> = 38.3 mA/cm</tspan><tspan font-size="4.8" dy="-2.6">2</tspan></text><text x="606" y="430.5" font-size="7.3" fill="#3a3a3a" text-anchor="start" font-weight="normal" font-style="normal" font-family="Liberation Sans" >FF = 66.3 %</text><rect x="602.2" y="387.2" width="73.8" height="14" fill="none" stroke="#9e1b24" stroke-width="2.6" stroke-dasharray="5.5,2.6"/>
<g><path d="M1.2,0.6 L66,0.6 L66,42 Q66,60 33.8,68 Q1.2,60 1.2,42 Z" fill="#fff" stroke="#1f3f8a" stroke-width="1.2"/><path d="M13.3,13 L55,13 L55,37 Q55,50 34.5,56.5 Q13.3,50 13.3,37 Z" fill="#1e3e9a"/><g fill="none" stroke="#fff" stroke-width="1.25"><path transform="translate(19.5,21.5) skewY(22)" d="M0,0 h6 v6.5 h-4.2 v-3.6 h2"/><path transform="translate(26.5,24.5) skewY(22)" d="M0,0 h6 v6.5 h-4.2 v-3.6 h2"/><path transform="translate(19.5,33.5) skewY(22)" d="M0,0 h6 v6.5 h-4.2 v-3.6 h2"/><path transform="translate(26.5,36.5) skewY(22)" d="M0,0 h6 v6.5 h-4.2 v-3.6 h2"/><path d="M18.2,21 L18.2,46 L33.5,52.5"/><path d="M35.8,22 L35.8,52"/><path d="M38.5,24 L44,22.5 L39,36 M43,23 L50,21 L43.5,40 M47,27 L53,25.5 L45,45"/></g><rect x="27.5" y="16" width="15" height="1.8" fill="#dde"/><g stroke="#223" stroke-width="1.2" fill="none" stroke-linecap="round"><path d="M7,6 L12,5 M9.5,4 L9.5,11 M7,8 L12,8 L11,11"/><path d="M16,6 L22,6 M19,5 L18,11 M15,11 L22,10"/><path d="M25,5 L30,5 M26,8 L30,8 M27,4 L27,11 M31,4 L33,6 L31,8 L33,11"/><path d="M36,5 L42,5 M37,7 L41,7 M36,9 L42,9 M39,6 L39,12"/><path d="M45,6 L51,6 M48,4 L46,11 M48,8 L51,11"/><path d="M54,4 L60,4 M55,7 L60,7 M57,3 L57,12 M54,10 L60,10"/></g><path d="M6,16 L6,44 Q7,58 33.8,64 Q60,58 61.5,44 L61.5,16" fill="none" stroke="#5a6aa0" stroke-width="2.2" stroke-dasharray="1.2,0.8" opacity="0.55"/></g>
<text x="250.5" y="136" font-size="8.2" fill="#222" text-anchor="start" font-weight="normal" font-style="italic" font-family="Liberation Sans" >(a)</text><text x="318.8" y="137.6" font-size="5.8" fill="#5a52a8" text-anchor="middle" font-weight="bold" font-style="normal" font-family="Liberation Sans" >Sn-Zn phase diagram</text><rect x="272" y="140.5" width="89" height="61" fill="#9fd6e6"/><path d="M272,177.2 L284,182.7 L301,163.8 C306,159 312,156.5 322,155 C338,153 350,150.5 356,146 L361,142.5 L361,182.7 Z" fill="#f6b9d2"/><path d="M272,177.2 L284,182.7 L301,163.8 C306,159 312,156.5 322,155 C338,153 350,150.5 356,146 L361,142.5" fill="none" stroke="#333" stroke-width="0.7"/><line x1="272" y1="182.7" x2="361" y2="182.7" stroke="#2a3a5a" stroke-width="0.9"/><text x="280" y="153" font-size="5.8" fill="#213463" text-anchor="start" font-weight="bold" font-style="italic" font-family="Liberation Sans" >Liquid</text><text x="322.5" y="166.6" font-size="5.6" fill="#213463" text-anchor="start" font-weight="bold" font-style="italic" font-family="Liberation Sans" >Liquid + Solid</text><text x="290.5" y="181.6" font-size="5.6" fill="#213463" text-anchor="start" font-weight="bold" font-style="normal" font-family="Liberation Sans" >200 °C</text><text x="312" y="194.4" font-size="5.8" fill="#213463" text-anchor="start" font-weight="bold" font-style="italic" font-family="Liberation Sans" >Solid</text><text x="265.5" y="165.2" font-size="5.2" fill="#222" text-anchor="start" font-weight="bold" font-style="normal" font-family="Liberation Sans" >300 °C</text><line x1="284" y1="163.8" x2="309" y2="163.8" stroke="#d23d4a" stroke-width="1.6"/><path d="M307,161.3 L313.5,163.8 L307,166.3 Z" fill="#d23d4a"/><circle cx="283.7" cy="163.8" r="2.3" fill="#d23d4a"/><g transform="translate(262.6,174) rotate(-90)"><text x="0" y="0" font-size="6" fill="#d23d4a" text-anchor="middle" font-weight="bold" font-style="normal" font-family="Liberation Sans" >Temperature °C</text></g><text x="271" y="206.2" font-size="5.4" fill="#222" text-anchor="start" font-weight="bold" font-style="normal" font-family="Liberation Sans" >Sn</text><text x="356.5" y="206.2" font-size="5.4" fill="#222" text-anchor="start" font-weight="bold" font-style="normal" font-family="Liberation Sans" >Zn</text><text x="316.5" y="206.2" font-size="5.6" fill="#d23d4a" text-anchor="middle" font-weight="bold" font-style="normal" font-family="Liberation Sans" >Atomic percent Zn</text><line x1="284" y1="184" x2="284" y2="223" stroke="#555" stroke-width="0.5" stroke-dasharray="1,1"/><line x1="305.5" y1="166" x2="305.5" y2="223" stroke="#555" stroke-width="0.5" stroke-dasharray="1,1"/><line x1="285" y1="211" x2="302" y2="211" stroke="#111" stroke-width="0.6"/><path d="M302,209.5 L305,211 L302,212.5Z" fill="#111"/><line x1="307" y1="211" x2="313" y2="211" stroke="#111" stroke-width="0.6" stroke-dasharray="1.5,1"/><path d="M313,209.6 L315.5,211 L313,212.4Z" fill="#111"/><text x="310.6" y="218.4" font-size="5.6" fill="#222" text-anchor="start" font-weight="bold" font-style="normal" font-family="Liberation Sans" >Zn segregation</text><text x="295.5" y="227.2" font-size="5.7" fill="#222" text-anchor="middle" font-weight="bold" font-style="normal" font-family="Liberation Sans" >Sn-Zn alloy</text><text x="295.5" y="234" font-size="5.7" fill="#222" text-anchor="middle" font-weight="bold" font-style="normal" font-family="Liberation Sans" >droplet</text><text x="295.5" y="241.6" font-size="5.8" fill="#222" text-anchor="middle" font-weight="bold" font-style="normal" font-family="Liberation Sans" >(Zn content increase)</text>
<text x="367.5" y="135.4" font-size="8.2" fill="#222" text-anchor="start" font-weight="bold" font-style="italic" font-family="Liberation Sans" >(b)</text><text x="386.5" y="133.4" font-size="5.6" fill="#111" text-anchor="start" font-weight="bold" font-style="normal" font-family="Liberation Sans" >Zn Vapour</text><text x="388" y="140.9" font-size="5.6" fill="#111" text-anchor="start" font-weight="bold" font-style="normal" font-family="Liberation Sans" >source</text><line x1="400.5" y1="150" x2="416.5" y2="138.8" stroke="#111" stroke-width="2"/><path d="M413.5,135.5 L421,136 L418,141.5Z" fill="#111"/><text x="441.7" y="146.9" font-size="5.6" fill="#111" text-anchor="start" font-weight="bold" font-style="normal" font-family="Liberation Sans" >Sn-Zn <tspan fill="#e03a3a">Liquid</tspan></text><path d="M422.6,175 A16,16 0 1 1 448,175 Z" fill="#e4383a"/><rect x="422.6" y="175" width="25.4" height="32" fill="#2a49a6"/><text x="435.2" y="167.6" font-size="5.4" fill="#fff" text-anchor="middle" font-weight="bold" font-style="normal" font-family="Liberation Sans" >Sn-Zn liquid</text><text x="435.2" y="195.8" font-size="6" fill="#fff" text-anchor="middle" font-weight="bold" font-style="normal" font-family="Liberation Sans" >Zn-Se</text><line x1="421.5" y1="136.5" x2="431.5" y2="151" stroke="#111" stroke-width="1.8"/><path d="M428.6,152.4 L434.5,156 L433.4,149.2Z" fill="#111"/><line x1="435.6" y1="156" x2="435.6" y2="182" stroke="#111" stroke-width="1.6"/><path d="M432.8,181 L435.6,188 L438.4,181Z" fill="#111"/><text x="385.8" y="172.7" font-size="5.6" fill="#111" text-anchor="start" font-weight="bold" font-style="normal" font-family="Liberation Sans" >Solid/Liquid</text><text x="390" y="180.1" font-size="5.6" fill="#111" text-anchor="start" font-weight="bold" font-style="normal" font-family="Liberation Sans" >interface</text><path d="M418.5,173.5 L422,175 L418.5,176.5Z" fill="#111"/><text x="448.8" y="180.7" font-size="5.6" fill="#111" text-anchor="start" font-weight="bold" font-style="normal" font-family="Liberation Sans" >Zn <tspan fill="#4a8ac8">Segregation</tspan></text><text x="469.4" y="189.2" font-size="5.6" fill="#4a8ac8" text-anchor="middle" font-weight="bold" font-style="normal" font-family="Liberation Sans" >(Solid)</text><text x="413" y="191" font-size="5.6" fill="#d03030" text-anchor="start" font-weight="bold" font-style="normal" font-family="Liberation Sans" >Se</text><text x="451.6" y="193.8" font-size="5.6" fill="#d03030" text-anchor="start" font-weight="bold" font-style="normal" font-family="Liberation Sans" >Se</text><circle cx="414" cy="195.5" r="1.1" fill="#d03030"/><circle cx="418" cy="194.5" r="1.1" fill="#d03030"/><circle cx="415" cy="199" r="1.1" fill="#d03030"/><circle cx="419" cy="198.5" r="1.1" fill="#d03030"/><circle cx="452" cy="198" r="1.1" fill="#d03030"/><circle cx="456" cy="197" r="1.1" fill="#d03030"/><circle cx="453" cy="201.5" r="1.1" fill="#d03030"/><circle cx="457" cy="200.5" r="1.1" fill="#d03030"/><rect x="382" y="248.4" width="84" height="3.6" fill="#c8c8cc"/><rect x="455" y="223" width="7.6" height="25.4" fill="#2a49a6"/><circle cx="458.8" cy="220.5" r="4.6" fill="#e4383a"/><text x="456.7" y="214.6" font-size="4.6" fill="#d03030" text-anchor="middle" font-weight="bold" font-style="normal" font-family="Liberation Sans" >Sn-Zn liquid</text><text x="464.5" y="236" font-size="5.8" fill="#2a3a7a" text-anchor="start" font-weight="bold" font-style="normal" font-family="Liberation Sans" >Zn-Se</text><text x="464.5" y="243" font-size="5.8" fill="#2a3a7a" text-anchor="start" font-weight="bold" font-style="normal" font-family="Liberation Sans" >nanowire</text><path d="M441,234.2 L450,234.2 L450,232 L454,236 L450,240 L450,237.8 L441,237.8Z" fill="#9ac4ee"/><text x="383" y="232.6" font-size="4.8" fill="#111" text-anchor="start" font-weight="bold" font-style="normal" font-family="Liberation Sans" >Zn Vapour phase</text><path d="M421,248.4 A4.6,4.6 0 1 1 430.2,248.4Z" fill="#e4383a"/><rect x="423" y="243.5" width="5" height="4.9" fill="#2a49a6"/><line x1="419" y1="235" x2="423" y2="240" stroke="#111" stroke-width="0.8"/><text x="434" y="239" font-size="5" fill="#d03030" text-anchor="start" font-weight="bold" font-style="normal" font-family="Liberation Sans" >Se</text><circle cx="418" cy="246" r="1" fill="#d03030"/><circle cx="414" cy="244" r="1" fill="#d03030"/><circle cx="433" cy="242" r="1" fill="#d03030"/><circle cx="437" cy="244.5" r="1" fill="#d03030"/><circle cx="434" cy="246.5" r="1" fill="#d03030"/><circle cx="417" cy="242" r="1" fill="#d03030"/><text x="367.8" y="247.5" font-size="4.6" fill="#d03030" text-anchor="start" font-weight="bold" font-style="normal" font-family="Liberation Sans" >Sn-Zn liquid</text><path d="M395,248.4 A4.6,4.6 0 1 1 404.2,248.4Z" fill="#e4383a"/><path d="M397,240 Q400,238 401,242" fill="none" stroke="#111" stroke-width="0.7"/>
<path d="M973.4,17 L973.4,92 L1051.6,92 L1051.6,17 Z" fill="#dcd0c4"/><ellipse cx="1012.5" cy="17" rx="39.1" ry="8" fill="#e6dcd2"/><text x="1013.2" y="25" font-size="6.4" fill="#111" text-anchor="middle" font-weight="bold" font-style="normal" font-family="Liberation Sans" >Lamps</text><rect x="993.4" y="29.5" width="38.2" height="2.8" rx="1" fill="#555"/><rect x="997.5" y="32.3" width="5" height="6" fill="#e8c860"/><rect x="1006.5" y="32.3" width="5" height="6" fill="#e8c860"/><rect x="1015.5" y="32.3" width="5" height="6" fill="#e8c860"/><rect x="1024.5" y="32.3" width="5" height="6" fill="#e8c860"/><rect x="1012.2" y="32" width="1.8" height="20" fill="#111"/><text x="1025.7" y="45" font-size="6.2" fill="#111" text-anchor="start" font-weight="bold" font-style="normal" font-family="Liberation Sans" >Substrates</text><clipPath id="lup"><rect x="960" y="40" width="100" height="52"/></clipPath><clipPath id="ldn"><rect x="960" y="92" width="100" height="50"/></clipPath><g clip-path="url(#lup)" opacity="0.6"><path d="M996.2,58.76 L978.2,113.76 L985.8,116.24 L1003.8,61.24Z" fill="#f0aa30" opacity="1"/><path d="M1022.69,59.31 L1039.69,115.31 L1048.31,112.69 L1031.31,56.69Z" fill="#333333" opacity="1"/><path d="M1001.59,61.11 L987.59,130.11 L996.41,131.89 L1010.41,62.89Z" fill="#a8a8a8" opacity="1"/><path d="M1015.63,63.09 L1032.63,131.09 L1041.37,128.91 L1024.37,60.91Z" fill="#f07a22" opacity="1"/><path d="M1007,62 L1007,107 L1018,107 L1018,62Z" fill="#2f9fe0" opacity="1"/></g><g clip-path="url(#ldn)"><path d="M996.2,58.76 L978.2,113.76 L985.8,116.24 L1003.8,61.24Z" fill="#f0aa30" opacity="1"/><path d="M1022.69,59.31 L1039.69,115.31 L1048.31,112.69 L1031.31,56.69Z" fill="#333333" opacity="1"/><path d="M1001.59,61.11 L987.59,130.11 L996.41,131.89 L1010.41,62.89Z" fill="#a8a8a8" opacity="1"/><path d="M1015.63,63.09 L1032.63,131.09 L1041.37,128.91 L1024.37,60.91Z" fill="#f07a22" opacity="1"/><path d="M1007,62 L1007,107 L1018,107 L1018,62Z" fill="#2f9fe0" opacity="1"/></g><ellipse cx="1012.5" cy="92" rx="39" ry="11.5" fill="#4a4a4a" opacity="0.6"/><rect x="992.5" y="50.6" width="41.5" height="5.8" rx="2" fill="#666"/><rect x="1005" y="53" width="16" height="13" fill="#e9c9cf" stroke="#888" stroke-width="0.8"/><rect x="1008" y="57" width="10" height="3" fill="#b03040"/><text x="964" y="122.2" font-size="6.6" fill="#f0a030" text-anchor="start" font-weight="bold" font-style="normal" font-family="Liberation Sans" >ZnSe</text><text x="997.5" y="132.5" font-size="6.6" fill="#222" text-anchor="start" font-weight="bold" font-style="normal" font-family="Liberation Sans" >Sn</text><text x="1006.8" y="120.3" font-size="6.6" fill="#2f8fd8" text-anchor="start" font-weight="bold" font-style="normal" font-family="Liberation Sans" >NaF</text><text x="1017" y="133.2" font-size="6.6" fill="#f07a22" text-anchor="start" font-weight="bold" font-style="normal" font-family="Liberation Sans" >Cu</text><text x="1046.4" y="122.2" font-size="6.6" fill="#222" text-anchor="start" font-weight="bold" font-style="normal" font-family="Liberation Sans" >Se</text>
<text x="779.3" y="136" font-size="6" fill="#111" text-anchor="start" font-weight="bold" font-style="normal" font-family="Liberation Sans" >a</text><path d="M787,142 L829.7,142 L819.7,152 L777,152Z" fill="#c5cbe8"/><path d="M777,152 L819.7,152 L819.7,154 L777,154Z" fill="#9aa4cc"/><path d="M819.7,152 L829.7,142 L829.7,144 L819.7,154Z" fill="#9aa4cc"/><path d="M782,157 L793,157 L788,166 L777,166Z" fill="#7cc8d0"/><path d="M777,166 L788,166 L788,168 L777,168Z" fill="#4a98a8"/><path d="M788,166 L793,157 L793,159 L788,168Z" fill="#4a98a8"/><path d="M798.5,157 L809.5,157 L804.5,166 L793.5,166Z" fill="#24a8e2"/><path d="M793.5,166 L804.5,166 L804.5,168 L793.5,168Z" fill="#1a78b0"/><path d="M804.5,166 L809.5,157 L809.5,159 L804.5,168Z" fill="#1a78b0"/><path d="M812.5,157 L823.5,157 L818.5,166 L807.5,166Z" fill="#f27a26"/><path d="M807.5,166 L818.5,166 L818.5,168 L807.5,168Z" fill="#c05410"/><path d="M818.5,166 L823.5,157 L823.5,159 L818.5,168Z" fill="#c05410"/><text x="779" y="174" font-size="5" fill="#333" text-anchor="start" font-weight="normal" font-style="normal" font-family="Liberation Serif" >Sn</text><text x="794.5" y="174" font-size="5" fill="#333" text-anchor="start" font-weight="normal" font-style="normal" font-family="Liberation Serif" >Zn</text><text x="807.5" y="174" font-size="5" fill="#333" text-anchor="start" font-weight="normal" font-style="normal" font-family="Liberation Serif" >Cu</text><path d="M827,148 L835,148 L835,146 L839,149.5 L835,153 L835,151 L827,151Z" fill="#4a80b8"/><path d="M890.5,148 L897,148 L897,146 L901,149.5 L897,153 L897,151 L890.5,151Z" fill="#4a80b8"/><path d="M951,148 L958,148 L958,146 L962,149.5 L958,153 L958,151 L951,151Z" fill="#4a80b8"/><path d="M849,142 L891,142 L883,154 L841,154Z" fill="#d8dff0"/><path d="M841,154 L883,154 L883,156 L841,156Z" fill="#b0bad8"/><path d="M883,154 L891,142 L891,144 L883,156Z" fill="#b0bad8"/><path d="M850,141 L888,141 L881,151.5 L843,151.5Z" fill="#c04a5c"/><path d="M843,151.5 L881,151.5 L881,153 L843,153Z" fill="#555" opacity="0.35"/><path d="M843,157.5 q1.6,1.5 0.8,3.5 q-0.8,2 1,4.5" fill="none" stroke="#666" stroke-width="0.55"/><path d="M848.2,157.5 q1.6,1.5 0.8,3.5 q-0.8,2 1,4.5" fill="none" stroke="#666" stroke-width="0.55"/><path d="M853.4,157.5 q1.6,1.5 0.8,3.5 q-0.8,2 1,4.5" fill="none" stroke="#666" stroke-width="0.55"/><path d="M858.6,157.5 q1.6,1.5 0.8,3.5 q-0.8,2 1,4.5" fill="none" stroke="#666" stroke-width="0.55"/><path d="M863.8,157.5 q1.6,1.5 0.8,3.5 q-0.8,2 1,4.5" fill="none" stroke="#666" stroke-width="0.55"/><path d="M869,157.5 q1.6,1.5 0.8,3.5 q-0.8,2 1,4.5" fill="none" stroke="#666" stroke-width="0.55"/><path d="M874.2,157.5 q1.6,1.5 0.8,3.5 q-0.8,2 1,4.5" fill="none" stroke="#666" stroke-width="0.55"/><path d="M879.4,157.5 q1.6,1.5 0.8,3.5 q-0.8,2 1,4.5" fill="none" stroke="#666" stroke-width="0.55"/><path d="M912,142 L954,142 L946,154 L904,154Z" fill="#d8dff0"/><path d="M904,154 L946,154 L946,156 L904,156Z" fill="#b0bad8"/><path d="M946,154 L954,142 L954,144 L946,156Z" fill="#b0bad8"/><path d="M913,141 L951,141 L944,151.5 L906,151.5Z" fill="#f28424"/><path d="M906,151.5 L944,151.5 L944,153 L906,153Z" fill="#555" opacity="0.35"/><path d="M906,157.5 q1.6,1.5 0.8,3.5 q-0.8,2 1,4.5" fill="none" stroke="#666" stroke-width="0.55"/><path d="M911.2,157.5 q1.6,1.5 0.8,3.5 q-0.8,2 1,4.5" fill="none" stroke="#666" stroke-width="0.55"/><path d="M916.4,157.5 q1.6,1.5 0.8,3.5 q-0.8,2 1,4.5" fill="none" stroke="#666" stroke-width="0.55"/><path d="M921.6,157.5 q1.6,1.5 0.8,3.5 q-0.8,2 1,4.5" fill="none" stroke="#666" stroke-width="0.55"/><path d="M926.8,157.5 q1.6,1.5 0.8,3.5 q-0.8,2 1,4.5" fill="none" stroke="#666" stroke-width="0.55"/><path d="M932,157.5 q1.6,1.5 0.8,3.5 q-0.8,2 1,4.5" fill="none" stroke="#666" stroke-width="0.55"/><path d="M937.2,157.5 q1.6,1.5 0.8,3.5 q-0.8,2 1,4.5" fill="none" stroke="#666" stroke-width="0.55"/><path d="M942.4,157.5 q1.6,1.5 0.8,3.5 q-0.8,2 1,4.5" fill="none" stroke="#666" stroke-width="0.55"/><path d="M972.5,142 L1014.5,142 L1006.5,154 L964.5,154Z" fill="#d8dff0"/><path d="M964.5,154 L1006.5,154 L1006.5,156 L964.5,156Z" fill="#b0bad8"/><path d="M1006.5,154 L1014.5,142 L1014.5,144 L1006.5,156Z" fill="#b0bad8"/><path d="M973.5,141 L1011.5,141 L1004.5,151.5 L966.5,151.5Z" fill="#1f4a50"/><path d="M966.5,151.5 L1004.5,151.5 L1004.5,153 L966.5,153Z" fill="#555" opacity="0.35"/><path d="M966.5,157.5 q1.6,1.5 0.8,3.5 q-0.8,2 1,4.5" fill="none" stroke="#666" stroke-width="0.55"/><path d="M971.7,157.5 q1.6,1.5 0.8,3.5 q-0.8,2 1,4.5" fill="none" stroke="#666" stroke-width="0.55"/><path d="M976.9,157.5 q1.6,1.5 0.8,3.5 q-0.8,2 1,4.5" fill="none" stroke="#666" stroke-width="0.55"/><path d="M982.1,157.5 q1.6,1.5 0.8,3.5 q-0.8,2 1,4.5" fill="none" stroke="#666" stroke-width="0.55"/><path d="M987.3,157.5 q1.6,1.5 0.8,3.5 q-0.8,2 1,4.5" fill="none" stroke="#666" stroke-width="0.55"/><path d="M992.5,157.5 q1.6,1.5 0.8,3.5 q-0.8,2 1,4.5" fill="none" stroke="#666" stroke-width="0.55"/><path d="M997.7,157.5 q1.6,1.5 0.8,3.5 q-0.8,2 1,4.5" fill="none" stroke="#666" stroke-width="0.55"/><path d="M1002.9,157.5 q1.6,1.5 0.8,3.5 q-0.8,2 1,4.5" fill="none" stroke="#666" stroke-width="0.55"/><circle cx="923.25" cy="136.26" r="0.7" fill="#e8c040"/><circle cx="937.64" cy="135.09" r="0.7" fill="#e8c040"/><circle cx="932.58" cy="139.49" r="0.7" fill="#e8c040"/><circle cx="911.55" cy="141.61" r="0.7" fill="#e8c040"/><circle cx="910.65" cy="140.5" r="0.7" fill="#e8c040"/><circle cx="912.07" cy="135.36" r="0.7" fill="#e8c040"/><circle cx="927.68" cy="146.4" r="0.7" fill="#e8c040"/><circle cx="914.45" cy="137.35" r="0.7" fill="#e8c040"/><circle cx="936.61" cy="148.22" r="0.7" fill="#e8c040"/><circle cx="934.39" cy="139.95" r="0.7" fill="#e8c040"/><circle cx="951.96" cy="134.7" r="0.7" fill="#e8c040"/><circle cx="946.77" cy="138.34" r="0.7" fill="#e8c040"/><circle cx="915.35" cy="135.77" r="0.7" fill="#e8c040"/><circle cx="922.57" cy="146.24" r="0.7" fill="#e8c040"/><circle cx="977.45" cy="142.72" r="0.7" fill="#e8c040"/><circle cx="997.61" cy="139.59" r="0.7" fill="#e8c040"/><circle cx="993.6" cy="134.94" r="0.7" fill="#e8c040"/><circle cx="972.12" cy="137.09" r="0.7" fill="#e8c040"/><circle cx="999.44" cy="140.41" r="0.7" fill="#e8c040"/><circle cx="983.32" cy="142.78" r="0.7" fill="#e8c040"/><circle cx="989.44" cy="138.5" r="0.7" fill="#e8c040"/><circle cx="1004.45" cy="144.48" r="0.7" fill="#e8c040"/><circle cx="980.24" cy="142.62" r="0.7" fill="#e8c040"/><circle cx="992.61" cy="147.13" r="0.7" fill="#e8c040"/><circle cx="1001.6" cy="138.32" r="0.7" fill="#e8c040"/><circle cx="1012.63" cy="135.77" r="0.7" fill="#e8c040"/><circle cx="987.9" cy="145.36" r="0.7" fill="#e8c040"/><circle cx="976.19" cy="141.33" r="0.7" fill="#e8c040"/><text x="861" y="173.4" font-size="5.4" fill="#333" text-anchor="middle" font-weight="normal" font-style="normal" font-family="Liberation Serif" >250°C alloying</text><text x="924.5" y="173.4" font-size="5.4" fill="#333" text-anchor="middle" font-weight="normal" font-style="normal" font-family="Liberation Serif" >Soft selenization</text><text x="985.8" y="173.4" font-size="5.4" fill="#333" text-anchor="middle" font-weight="normal" font-style="normal" font-family="Liberation Serif" >550°C selenization</text>
<text x="779.5" y="190.5" font-size="6" fill="#111" text-anchor="start" font-weight="bold" font-style="normal" font-family="Liberation Sans" >b</text><rect x="778.8" y="201.3" width="44.4" height="5.3" fill="#f08a3c"/><path d="M823.2,201.3 L838.3,188.8 L838.3,194.1 L823.2,206.6Z" fill="#c86a28"/><rect x="778.8" y="206.6" width="44.4" height="3.6" fill="#8ed4ec"/><path d="M823.2,206.6 L838.3,194.1 L838.3,197.7 L823.2,210.2Z" fill="#6ab0c8"/><rect x="778.8" y="210.2" width="44.4" height="3.8" fill="#2aa6d6"/><path d="M823.2,210.2 L838.3,197.7 L838.3,201.5 L823.2,214Z" fill="#1a86b0"/><rect x="778.8" y="214" width="44.4" height="4" fill="#f08a3c"/><path d="M823.2,214 L838.3,201.5 L838.3,205.5 L823.2,218Z" fill="#c86a28"/><rect x="778.8" y="218" width="44.4" height="4.5" fill="#8ed4ec"/><path d="M823.2,218 L838.3,205.5 L838.3,210 L823.2,222.5Z" fill="#6ab0c8"/><rect x="778.8" y="222.5" width="44.4" height="12.5" fill="#6a6a6a"/><path d="M823.2,222.5 L838.3,210 L838.3,222.5 L823.2,235Z" fill="#4a4a4a"/><rect x="778.8" y="235" width="44.4" height="16.8" fill="#b8c4e4"/><path d="M823.2,235 L838.3,222.5 L838.3,239.3 L823.2,251.8Z" fill="#8a9ac4"/><path d="M778.8,201.3 L793.8,188.8 L838.3,188.8 L823.2,201.3Z" fill="#f29a48"/><text x="800" y="205" font-size="2.8" fill="#333" text-anchor="middle" font-weight="normal" font-style="normal" font-family="Liberation Serif" >Cu  220 nm</text><text x="800" y="209.5" font-size="2.8" fill="#333" text-anchor="middle" font-weight="normal" font-style="normal" font-family="Liberation Serif" >Sn  450 nm</text><text x="800" y="213.4" font-size="2.8" fill="#333" text-anchor="middle" font-weight="normal" font-style="normal" font-family="Liberation Serif" >Zn  350nm</text><text x="800" y="217.4" font-size="2.8" fill="#333" text-anchor="middle" font-weight="normal" font-style="normal" font-family="Liberation Serif" >Cu  85 nm</text><text x="800" y="221.6" font-size="2.8" fill="#333" text-anchor="middle" font-weight="normal" font-style="normal" font-family="Liberation Serif" >Sn  300 nm</text><text x="801" y="231.5" font-size="5.2" fill="#eee" text-anchor="middle" font-weight="bold" font-style="normal" font-family="Liberation Serif" >Mo 1μm</text><text x="801" y="246" font-size="6" fill="#223" text-anchor="middle" font-weight="bold" font-style="normal" font-family="Liberation Serif" >SLG</text>
<text x="848.7" y="188" font-size="6" fill="#111" text-anchor="start" font-weight="bold" font-style="normal" font-family="Liberation Sans" >c</text><rect x="859.5" y="188.6" width="71.7" height="60.8" fill="#fff" stroke="#666" stroke-width="0.6"/><text x="866.7" y="254" font-size="3.6" fill="#444" text-anchor="middle" font-weight="normal" font-style="normal" font-family="Liberation Sans" >0</text><text x="875.9" y="254" font-size="3.6" fill="#444" text-anchor="middle" font-weight="normal" font-style="normal" font-family="Liberation Sans" >10</text><text x="885.1" y="254" font-size="3.6" fill="#444" text-anchor="middle" font-weight="normal" font-style="normal" font-family="Liberation Sans" >20</text><text x="894.3" y="254" font-size="3.6" fill="#444" text-anchor="middle" font-weight="normal" font-style="normal" font-family="Liberation Sans" >30</text><text x="903.5" y="254" font-size="3.6" fill="#444" text-anchor="middle" font-weight="normal" font-style="normal" font-family="Liberation Sans" >40</text><text x="912.7" y="254" font-size="3.6" fill="#444" text-anchor="middle" font-weight="normal" font-style="normal" font-family="Liberation Sans" >50</text><text x="921.9" y="254" font-size="3.6" fill="#444" text-anchor="middle" font-weight="normal" font-style="normal" font-family="Liberation Sans" >60</text><text x="931.1" y="254" font-size="3.6" fill="#444" text-anchor="middle" font-weight="normal" font-style="normal" font-family="Liberation Sans" >70</text><text x="858" y="249" font-size="3.6" fill="#444" text-anchor="end" font-weight="normal" font-style="normal" font-family="Liberation Sans" >0</text><text x="858" y="239.97" font-size="3.6" fill="#444" text-anchor="end" font-weight="normal" font-style="normal" font-family="Liberation Sans" >100</text><text x="858" y="230.93" font-size="3.6" fill="#444" text-anchor="end" font-weight="normal" font-style="normal" font-family="Liberation Sans" >200</text><text x="858" y="221.9" font-size="3.6" fill="#444" text-anchor="end" font-weight="normal" font-style="normal" font-family="Liberation Sans" >300</text><text x="858" y="212.87" font-size="3.6" fill="#444" text-anchor="end" font-weight="normal" font-style="normal" font-family="Liberation Sans" >400</text><text x="858" y="203.83" font-size="3.6" fill="#444" text-anchor="end" font-weight="normal" font-style="normal" font-family="Liberation Sans" >500</text><text x="858" y="194.8" font-size="3.6" fill="#444" text-anchor="end" font-weight="normal" font-style="normal" font-family="Liberation Sans" >600</text><text x="895.7" y="258.3" font-size="5" fill="#333" text-anchor="middle" font-weight="normal" font-style="normal" font-family="Liberation Sans" >Time (min)</text><g transform="translate(851,220.2) rotate(-90)"><text x="0" y="0" font-size="4.6" fill="#333" text-anchor="middle" font-weight="normal" font-style="normal" font-family="Liberation Sans" >Substrate temperature (°C)</text></g><line x1="888.4" y1="189" x2="888.4" y2="249" stroke="#999" stroke-width="0.6" stroke-dasharray="1.2,1"/><path d="M866.7,246.5 L873.9,225 L888.4,225" fill="none" stroke="#7a5ca6" stroke-width="0.9"/><path d="M888.4,225 L895,198 L931,198" fill="none" stroke="#3a78b8" stroke-width="0.9"/><path d="M889.7,222 L903.6,222 L910,198 L931,198" fill="none" stroke="#e8a840" stroke-width="0.9"/><text x="861" y="195.2" font-size="3.1" fill="#333" text-anchor="start" font-weight="normal" font-style="normal" font-family="Liberation Sans" >Alloying process</text><text x="891.7" y="195.2" font-size="3.1" fill="#333" text-anchor="start" font-weight="normal" font-style="normal" font-family="Liberation Sans" >Selenization process</text><text x="876.6" y="224.4" font-size="3.4" fill="#333" text-anchor="start" font-weight="normal" font-style="normal" font-family="Liberation Sans" >250°C</text><text x="893" y="221.2" font-size="3.4" fill="#333" text-anchor="start" font-weight="normal" font-style="normal" font-family="Liberation Sans" >280°C</text><text x="913.4" y="200.4" font-size="3.4" fill="#333" text-anchor="start" font-weight="normal" font-style="normal" font-family="Liberation Sans" >550°C</text><line x1="896.3" y1="229.4" x2="905.5" y2="229.4" stroke="#3a78b8" stroke-width="0.9"/><line x1="896.3" y1="235.3" x2="905.5" y2="235.3" stroke="#e8a840" stroke-width="0.9"/><text x="906.8" y="231" font-size="4" fill="#333" text-anchor="start" font-weight="normal" font-style="normal" font-family="Liberation Sans" >S-Mod</text><text x="906.8" y="236.9" font-size="4" fill="#333" text-anchor="start" font-weight="normal" font-style="normal" font-family="Liberation Sans" >S-Ref</text>
<rect x="283.5" y="334.6" width="32.3" height="6" fill="#ea4a86"/><rect x="283.5" y="340.6" width="32.3" height="16.6" fill="#9457c4"/><rect x="283.5" y="357.2" width="32.3" height="5.1" fill="#2cbce8"/><rect x="283.5" y="362.3" width="32.3" height="5" fill="#e6c83a"/><rect x="283.5" y="367.3" width="32.3" height="61.5" fill="#0b3df2"/><rect x="283.5" y="428.8" width="32.3" height="12.6" fill="#123a78"/><rect x="283.5" y="441.4" width="32.3" height="30.2" fill="#0c0c0c"/><text x="299.6" y="339.5" font-size="3.4" fill="#e8e8f0" text-anchor="middle" font-weight="normal" font-style="normal" font-family="Liberation Sans" >MgF<tspan font-size="2.6">2</tspan></text><text x="299.6" y="351" font-size="3.6" fill="#e8e8f0" text-anchor="middle" font-weight="normal" font-style="normal" font-family="Liberation Sans" >ITO</text><text x="299.6" y="361" font-size="3" fill="#e8e8f0" text-anchor="middle" font-weight="normal" font-style="normal" font-family="Liberation Sans" >ZnO</text><text x="299.6" y="366" font-size="3" fill="#e8e8f0" text-anchor="middle" font-weight="normal" font-style="normal" font-family="Liberation Sans" >CdS</text><text x="299.6" y="400" font-size="3.8" fill="#e8e8f0" text-anchor="middle" font-weight="normal" font-style="normal" font-family="Liberation Sans" >CZTS</text><text x="299.6" y="436.5" font-size="3.6" fill="#e8e8f0" text-anchor="middle" font-weight="normal" font-style="normal" font-family="Liberation Sans" >MoS<tspan font-size="2.6">2</tspan></text><text x="299.6" y="458.5" font-size="3.6" fill="#e8e8f0" text-anchor="middle" font-weight="normal" font-style="normal" font-family="Liberation Sans" >Mo glass</text><text x="283" y="327.6" font-size="4" fill="#111" text-anchor="start" font-weight="bold" font-style="normal" font-family="Liberation Sans" >b</text><text x="316" y="327.6" font-size="4" fill="#111" text-anchor="start" font-weight="bold" font-style="normal" font-family="Liberation Sans" >a</text><linearGradient id="temg" x1="0" y1="0" x2="1" y2="0"><stop offset="0" stop-color="#8e8e8e"/><stop offset="0.6" stop-color="#9a9a9a"/><stop offset="1" stop-color="#808080"/></linearGradient><rect x="315.8" y="334.6" width="51" height="137" fill="url(#temg)"/><rect x="315.8" y="334.6" width="51" height="10" fill="#ececec"/><path d="M315.8,360 L315.8,342.86 L317.8,343.09 L319.8,344.33 L321.8,343.69 L323.8,343.44 L325.8,343.53 L327.8,342.37 L329.8,342.66 L331.8,343.18 L333.8,343.99 L335.8,342.38 L337.8,342.04 L339.8,341.19 L341.8,342.85 L343.8,343.49 L345.8,341.92 L347.8,343.8 L349.8,344.87 L351.8,344.59 L353.8,344.3 L355.8,342.75 L357.8,341.4 L359.8,342.12 L361.8,341.15 L363.8,340.96 L365.8,341 L366.8,360Z" fill="#5e5e5e"/><path d="M315.8,350 L366.8,352 L366.8,358 L315.8,356Z" fill="#6a6a6a" opacity="0.6"/><path d="M315.8,356 L366.8,358 L366.8,366 L315.8,363Z" fill="#7a7a7a"/><path d="M338,362 L366.8,418 L366.8,362Z" fill="#a8a8a8" opacity="0.45" filter="url(#blur2)"/><path d="M315.8,392 L342,402 L352,418 L315.8,418Z" fill="#c0c0c0" opacity="0.55" filter="url(#blur2)"/><path d="M316.3,362V428M319.4,362V428M322.5,362V428M325.6,362V428M328.7,362V428M331.8,362V428M334.9,362V428M338,362V428M341.1,362V428M344.2,362V428M347.3,362V428M350.4,362V428M353.5,362V428M356.6,362V428M359.7,362V428M362.8,362V428M365.9,362V428" stroke="#000" stroke-width="1.0" opacity="0.05"/><rect x="315.8" y="418" width="51" height="10.8" fill="#a4a4a4"/><rect x="315.8" y="428.8" width="51" height="12.6" fill="#626262"/><rect x="315.8" y="441.4" width="51" height="30.2" fill="#111"/><path d="M316.3,441.4V471.6M318.5,441.4V471.6M320.7,441.4V471.6M322.9,441.4V471.6M325.1,441.4V471.6M327.3,441.4V471.6M329.5,441.4V471.6M331.7,441.4V471.6M333.9,441.4V471.6M336.1,441.4V471.6M338.3,441.4V471.6M340.5,441.4V471.6M342.7,441.4V471.6M344.9,441.4V471.6M347.1,441.4V471.6M349.3,441.4V471.6M351.5,441.4V471.6M353.7,441.4V471.6M355.9,441.4V471.6M358.1,441.4V471.6M360.3,441.4V471.6M362.5,441.4V471.6M364.7,441.4V471.6" stroke="#fff" stroke-width="0.8" opacity="0.05"/><rect x="327" y="463" width="12" height="1.3" fill="#fff"/><text x="333" y="461" font-size="3" fill="#fff" text-anchor="middle" font-weight="normal" font-style="normal" font-family="Liberation Sans" >200 nm</text><path d="M342,335.5 Q350,333 360,335 L356,337 Q348,338 342,337Z" fill="#333"/><line x1="331" y1="364" x2="372" y2="336" stroke="#d03030" stroke-width="0.7"/><line x1="331" y1="364" x2="372" y2="420" stroke="#d03030" stroke-width="0.7"/><circle cx="331" cy="364" r="1.3" fill="#d03030"/>
<rect x="371.8" y="334.6" width="100.7" height="86" fill="#141414"/><pattern id="dots" x="371.8" y="334.6" width="3.4" height="3.6" patternUnits="userSpaceOnUse"><circle cx="1.7" cy="1.8" r="0.55" fill="#c8c8c8"/></pattern><rect x="373" y="345" width="99" height="75" fill="url(#dots)" opacity="0.8"/><line x1="373" y1="349" x2="472" y2="353" stroke="#c84848" stroke-width="0.8" stroke-dasharray="2,1"/><line x1="373" y1="401" x2="414" y2="404" stroke="#c84848" stroke-width="0.8" stroke-dasharray="2,1"/><line x1="373" y1="407" x2="414" y2="409" stroke="#c84848" stroke-width="0.8" stroke-dasharray="2,1"/><line x1="415" y1="402" x2="472" y2="346" stroke="#bbb" stroke-width="0.6"/><line x1="413" y1="415" x2="472" y2="392" stroke="#bbb" stroke-width="0.6"/><rect x="379" y="413" width="10" height="1.2" fill="#fff"/><text x="376" y="339.5" font-size="3" fill="#b88a70" text-anchor="start" font-weight="normal" font-style="normal" font-family="Liberation Sans" >CdS</text><text x="376" y="351.5" font-size="3" fill="#58a888" text-anchor="start" font-weight="normal" font-style="normal" font-family="Liberation Sans" >CZTS</text><text x="369" y="330" font-size="4" fill="#111" text-anchor="start" font-weight="bold" font-style="normal" font-family="Liberation Sans" >c</text><text x="369" y="424" font-size="4" fill="#111" text-anchor="start" font-weight="bold" font-style="normal" font-family="Liberation Sans" >d</text><rect x="475" y="334.6" width="36.5" height="54.6" fill="#151515"/><rect x="476" y="355" width="35" height="34" fill="url(#dots)" opacity="0.6"/><circle cx="479" cy="340" r="1.9" fill="#30c8d8"/><circle cx="485" cy="341" r="1.9" fill="#30c8d8"/><circle cx="491" cy="340" r="1.9" fill="#c02828"/><circle cx="497" cy="341" r="1.9" fill="#30c8d8"/><circle cx="503" cy="340" r="1.9" fill="#30c8d8"/><circle cx="509" cy="341" r="1.9" fill="#c02828"/><circle cx="480" cy="347" r="1.9" fill="#c02828"/><circle cx="486" cy="346" r="1.9" fill="#30c8d8"/><circle cx="492" cy="347" r="1.9" fill="#c02828"/><circle cx="498" cy="346" r="1.9" fill="#bbb"/><circle cx="504" cy="347" r="1.9" fill="#c02828"/><circle cx="509" cy="346" r="1.9" fill="#30c8d8"/><circle cx="479" cy="353" r="1.9" fill="#30c8d8"/><circle cx="485" cy="352" r="1.9" fill="#30c8d8"/><circle cx="491" cy="353" r="1.9" fill="#c02828"/><circle cx="497" cy="352" r="1.9" fill="#30c8d8"/><circle cx="503" cy="353" r="1.9" fill="#30c8d8"/><circle cx="486" cy="398" r="2.4" fill="#8a1a1a"/><text x="490" y="399.2" font-size="3.4" fill="#333" text-anchor="start" font-weight="normal" font-style="normal" font-family="Liberation Sans" >Sn</text><circle cx="486" cy="404" r="1.1" fill="#1a2a6a"/><text x="490" y="405.2" font-size="3.4" fill="#333" text-anchor="start" font-weight="normal" font-style="normal" font-family="Liberation Sans" >S</text><circle cx="486" cy="410" r="2.4" fill="#30c0d0"/><text x="490" y="411.2" font-size="3.4" fill="#333" text-anchor="start" font-weight="normal" font-style="normal" font-family="Liberation Sans" >Cu/Zn</text><circle cx="486" cy="416" r="2.4" fill="#a02020"/><text x="490" y="417.2" font-size="3.4" fill="#333" text-anchor="start" font-weight="normal" font-style="normal" font-family="Liberation Sans" >Cd</text><rect x="373" y="430.2" width="132" height="20.6" fill="#fff" stroke="#555" stroke-width="0.5"/><path d="M373,449 L373.5,448.08 L374,447.58 L374.5,448.73 L375,448.71 L375.5,447.57 L376,448.1 L376.5,442.48 L377,434 L377.5,442.48 L378,448.75 L378.5,448.69 L379,447.56 L379.5,448.13 L380,449 L380.5,448.03 L381,447.6 L381.5,448.76 L382,448.67 L382.5,447.55 L383,448.15 L383.5,449 L384,448.01 L384.5,447.61 L385,448.78 L385.5,448.64 L386,447.54 L386.5,448.18 L387,448.99 L387.5,444.65 L388,439 L388.5,444.65 L389,448.62 L389.5,447.53 L390,448.2 L390.5,448.99 L391,447.96 L391.5,447.64 L392,448.82 L392.5,448.6 L393,447.52 L393.5,448.23 L394,448.98 L394.5,447.94 L395,447.66 L395.5,448.83 L396,448.58 L396.5,447.52 L397,448.25 L397.5,448.98 L398,447.91 L398.5,442.48 L399,434 L399.5,442.48 L400,447.51 L400.5,448.28 L401,448.97 L401.5,447.89 L402,447.69 L402.5,448.86 L403,448.53 L403.5,447.51 L404,448.31 L404.5,448.97 L405,447.87 L405.5,447.71 L406,448.88 L406.5,448.51 L407,447.51 L407.5,448.33 L408,448.96 L408.5,447.85 L409,447.72 L409.5,444.65 L410,439 L410.5,444.65 L411,448.36 L411.5,448.95 L412,447.83 L412.5,447.74 L413,448.9 L413.5,448.46 L414,447.5 L414.5,448.38 L415,448.94 L415.5,447.81 L416,447.76 L416.5,448.92 L417,448.44 L417.5,447.5 L418,448.4 L418.5,448.93 L419,447.79 L419.5,447.78 L420,448.93 L420.5,442.48 L421,434 L421.5,442.48 L422,448.92 L422.5,447.77 L423,447.8 L423.5,448.94 L424,448.39 L424.5,447.5 L425,448.45 L425.5,448.91 L426,447.75 L426.5,447.82 L427,448.95 L427.5,448.36 L428,447.5 L428.5,448.48 L429,448.89 L429.5,447.73 L430,447.84 L430.5,448.96 L431,448.34 L431.5,444.65 L432,439 L432.5,444.65 L433,447.71 L433.5,447.86 L434,448.96 L434.5,448.31 L435,447.51 L435.5,448.53 L436,448.87 L436.5,447.69 L437,447.89 L437.5,448.97 L438,448.29 L438.5,447.51 L439,448.55 L439.5,448.85 L440,447.68 L440.5,447.91 L441,448.98 L441.5,448.26 L442,447.52 L442.5,442.48 L443,434 L443.5,442.48 L444,447.93 L444.5,448.98 L445,448.24 L445.5,447.52 L446,448.59 L446.5,448.82 L447,447.65 L447.5,447.95 L448,448.99 L448.5,448.21 L449,447.53 L449.5,448.62 L450,448.8 L450.5,447.63 L451,447.98 L451.5,448.99 L452,448.19 L452.5,447.54 L453,448.64 L453.5,444.65 L454,439 L454.5,444.65 L455,449 L455.5,448.16 L456,447.55 L456.5,448.66 L457,448.77 L457.5,447.6 L458,448.02 L458.5,449 L459,448.14 L459.5,447.55 L460,448.68 L460.5,448.75 L461,447.59 L461.5,448.05 L462,449 L462.5,448.11 L463,447.56 L463.5,448.7 L464,448.73 L464.5,442.48 L465,434 L465.5,442.48 L466,448.09 L466.5,447.57 L467,448.72 L467.5,448.71 L468,447.57 L468.5,448.1 L469,449 L469.5,448.06 L470,447.59 L470.5,448.74 L471,448.69 L471.5,447.56 L472,448.12 L472.5,449 L473,448.04 L473.5,447.6 L474,448.76 L474.5,448.67 L475,447.55 L475.5,444.65 L476,439 L476.5,444.65 L477,447.61 L477.5,448.78 L478,448.65 L478.5,447.54 L479,448.17 L479.5,448.99 L480,447.99 L480.5,447.62 L481,448.79 L481.5,448.63 L482,447.53 L482.5,448.2 L483,448.99 L483.5,447.97 L484,447.64 L484.5,448.81 L485,448.61 L485.5,447.53 L486,448.22 L486.5,442.48 L487,434 L487.5,442.48 L488,448.83 L488.5,448.58 L489,447.52 L489.5,448.25 L490,448.98 L490.5,447.92 L491,447.67 L491.5,448.84 L492,448.56 L492.5,447.51 L493,448.27 L493.5,448.97 L494,447.9 L494.5,447.69 L495,448.86 L495.5,448.54 L496,447.51 L496.5,448.3 L497,448.97 L497.5,444.65 L498,439 L498.5,444.65 L499,448.51 L499.5,447.51 L500,448.32 L500.5,448.96 L501,447.85 L501.5,447.72 L502,448.89 L502.5,448.49 L503,447.5 L503.5,448.35 L504,448.95 L504.5,447.83 L505,447.74" fill="none" stroke="#777" stroke-width="0.45"/><rect x="373" y="452" width="132" height="18.5" fill="#d8f4f4"/><circle cx="374" cy="454" r="1.9" fill="#9a1a26"/><circle cx="378.5" cy="454" r="1.4" fill="#38c4d4"/><circle cx="383" cy="454" r="1.4" fill="#38c4d4"/><circle cx="387.5" cy="454" r="1.9" fill="#9a1a26"/><circle cx="392" cy="454" r="1.4" fill="#38c4d4"/><circle cx="396.5" cy="454" r="1.4" fill="#38c4d4"/><circle cx="401" cy="454" r="1.9" fill="#9a1a26"/><circle cx="405.5" cy="454" r="1.4" fill="#38c4d4"/><circle cx="410" cy="454" r="1.4" fill="#38c4d4"/><circle cx="414.5" cy="454" r="1.9" fill="#9a1a26"/><circle cx="419" cy="454" r="1.4" fill="#38c4d4"/><circle cx="423.5" cy="454" r="1.4" fill="#38c4d4"/><circle cx="428" cy="454" r="1.9" fill="#9a1a26"/><circle cx="432.5" cy="454" r="1.4" fill="#38c4d4"/><circle cx="437" cy="454" r="1.4" fill="#38c4d4"/><circle cx="441.5" cy="454" r="1.9" fill="#9a1a26"/><circle cx="446" cy="454" r="1.4" fill="#38c4d4"/><circle cx="450.5" cy="454" r="1.4" fill="#38c4d4"/><circle cx="455" cy="454" r="1.9" fill="#9a1a26"/><circle cx="459.5" cy="454" r="1.4" fill="#38c4d4"/><circle cx="464" cy="454" r="1.4" fill="#38c4d4"/><circle cx="468.5" cy="454" r="1.9" fill="#9a1a26"/><circle cx="473" cy="454" r="1.4" fill="#38c4d4"/><circle cx="477.5" cy="454" r="1.4" fill="#38c4d4"/><circle cx="482" cy="454" r="1.9" fill="#9a1a26"/><circle cx="486.5" cy="454" r="1.4" fill="#38c4d4"/><circle cx="491" cy="454" r="1.4" fill="#38c4d4"/><circle cx="495.5" cy="454" r="1.9" fill="#9a1a26"/><circle cx="500" cy="454" r="1.4" fill="#38c4d4"/><circle cx="504.5" cy="454" r="1.4" fill="#38c4d4"/><circle cx="376.2" cy="458.6" r="1.4" fill="#38c4d4"/><circle cx="380.7" cy="458.6" r="1.4" fill="#38c4d4"/><circle cx="385.2" cy="458.6" r="1.4" fill="#38c4d4"/><circle cx="389.7" cy="458.6" r="1.4" fill="#38c4d4"/><circle cx="394.2" cy="458.6" r="1.4" fill="#38c4d4"/><circle cx="398.7" cy="458.6" r="1.4" fill="#38c4d4"/><circle cx="403.2" cy="458.6" r="1.4" fill="#38c4d4"/><circle cx="407.7" cy="458.6" r="1.4" fill="#38c4d4"/><circle cx="412.2" cy="458.6" r="1.4" fill="#38c4d4"/><circle cx="416.7" cy="458.6" r="1.4" fill="#38c4d4"/><circle cx="421.2" cy="458.6" r="1.4" fill="#38c4d4"/><circle cx="425.7" cy="458.6" r="1.4" fill="#38c4d4"/><circle cx="430.2" cy="458.6" r="1.4" fill="#38c4d4"/><circle cx="434.7" cy="458.6" r="1.4" fill="#38c4d4"/><circle cx="439.2" cy="458.6" r="1.4" fill="#38c4d4"/><circle cx="443.7" cy="458.6" r="1.4" fill="#38c4d4"/><circle cx="448.2" cy="458.6" r="1.4" fill="#38c4d4"/><circle cx="452.7" cy="458.6" r="1.4" fill="#38c4d4"/><circle cx="457.2" cy="458.6" r="1.4" fill="#38c4d4"/><circle cx="461.7" cy="458.6" r="1.4" fill="#38c4d4"/><circle cx="466.2" cy="458.6" r="1.4" fill="#38c4d4"/><circle cx="470.7" cy="458.6" r="1.4" fill="#38c4d4"/><circle cx="475.2" cy="458.6" r="1.4" fill="#38c4d4"/><circle cx="479.7" cy="458.6" r="1.4" fill="#38c4d4"/><circle cx="484.2" cy="458.6" r="1.4" fill="#38c4d4"/><circle cx="488.7" cy="458.6" r="1.4" fill="#38c4d4"/><circle cx="493.2" cy="458.6" r="1.4" fill="#38c4d4"/><circle cx="497.7" cy="458.6" r="1.4" fill="#38c4d4"/><circle cx="502.2" cy="458.6" r="1.4" fill="#38c4d4"/><circle cx="506.7" cy="458.6" r="1.4" fill="#38c4d4"/><circle cx="374" cy="463.2" r="1.9" fill="#9a1a26"/><circle cx="378.5" cy="463.2" r="1.4" fill="#38c4d4"/><circle cx="383" cy="463.2" r="1.4" fill="#38c4d4"/><circle cx="387.5" cy="463.2" r="1.9" fill="#9a1a26"/><circle cx="392" cy="463.2" r="1.4" fill="#38c4d4"/><circle cx="396.5" cy="463.2" r="1.4" fill="#38c4d4"/><circle cx="401" cy="463.2" r="1.9" fill="#9a1a26"/><circle cx="405.5" cy="463.2" r="1.4" fill="#38c4d4"/><circle cx="410" cy="463.2" r="1.4" fill="#38c4d4"/><circle cx="414.5" cy="463.2" r="1.9" fill="#9a1a26"/><circle cx="419" cy="463.2" r="1.4" fill="#38c4d4"/><circle cx="423.5" cy="463.2" r="1.4" fill="#38c4d4"/><circle cx="428" cy="463.2" r="1.9" fill="#9a1a26"/><circle cx="432.5" cy="463.2" r="1.4" fill="#38c4d4"/><circle cx="437" cy="463.2" r="1.4" fill="#38c4d4"/><circle cx="441.5" cy="463.2" r="1.9" fill="#9a1a26"/><circle cx="446" cy="463.2" r="1.4" fill="#38c4d4"/><circle cx="450.5" cy="463.2" r="1.4" fill="#38c4d4"/><circle cx="455" cy="463.2" r="1.9" fill="#9a1a26"/><circle cx="459.5" cy="463.2" r="1.4" fill="#38c4d4"/><circle cx="464" cy="463.2" r="1.4" fill="#38c4d4"/><circle cx="468.5" cy="463.2" r="1.9" fill="#9a1a26"/><circle cx="473" cy="463.2" r="1.4" fill="#38c4d4"/><circle cx="477.5" cy="463.2" r="1.4" fill="#38c4d4"/><circle cx="482" cy="463.2" r="1.9" fill="#9a1a26"/><circle cx="486.5" cy="463.2" r="1.4" fill="#38c4d4"/><circle cx="491" cy="463.2" r="1.4" fill="#38c4d4"/><circle cx="495.5" cy="463.2" r="1.9" fill="#9a1a26"/><circle cx="500" cy="463.2" r="1.4" fill="#38c4d4"/><circle cx="504.5" cy="463.2" r="1.4" fill="#38c4d4"/><circle cx="376.2" cy="467.8" r="1.4" fill="#38c4d4"/><circle cx="380.7" cy="467.8" r="1.4" fill="#38c4d4"/><circle cx="385.2" cy="467.8" r="1.4" fill="#38c4d4"/><circle cx="389.7" cy="467.8" r="1.4" fill="#38c4d4"/><circle cx="394.2" cy="467.8" r="1.4" fill="#38c4d4"/><circle cx="398.7" cy="467.8" r="1.4" fill="#38c4d4"/><circle cx="403.2" cy="467.8" r="1.4" fill="#38c4d4"/><circle cx="407.7" cy="467.8" r="1.4" fill="#38c4d4"/><circle cx="412.2" cy="467.8" r="1.4" fill="#38c4d4"/><circle cx="416.7" cy="467.8" r="1.4" fill="#38c4d4"/><circle cx="421.2" cy="467.8" r="1.4" fill="#38c4d4"/><circle cx="425.7" cy="467.8" r="1.4" fill="#38c4d4"/><circle cx="430.2" cy="467.8" r="1.4" fill="#38c4d4"/><circle cx="434.7" cy="467.8" r="1.4" fill="#38c4d4"/><circle cx="439.2" cy="467.8" r="1.4" fill="#38c4d4"/><circle cx="443.7" cy="467.8" r="1.4" fill="#38c4d4"/><circle cx="448.2" cy="467.8" r="1.4" fill="#38c4d4"/><circle cx="452.7" cy="467.8" r="1.4" fill="#38c4d4"/><circle cx="457.2" cy="467.8" r="1.4" fill="#38c4d4"/><circle cx="461.7" cy="467.8" r="1.4" fill="#38c4d4"/><circle cx="466.2" cy="467.8" r="1.4" fill="#38c4d4"/><circle cx="470.7" cy="467.8" r="1.4" fill="#38c4d4"/><circle cx="475.2" cy="467.8" r="1.4" fill="#38c4d4"/><circle cx="479.7" cy="467.8" r="1.4" fill="#38c4d4"/><circle cx="484.2" cy="467.8" r="1.4" fill="#38c4d4"/><circle cx="488.7" cy="467.8" r="1.4" fill="#38c4d4"/><circle cx="493.2" cy="467.8" r="1.4" fill="#38c4d4"/><circle cx="497.7" cy="467.8" r="1.4" fill="#38c4d4"/><circle cx="502.2" cy="467.8" r="1.4" fill="#38c4d4"/><circle cx="506.7" cy="467.8" r="1.4" fill="#38c4d4"/>
<text x="937.8" y="187" font-size="6" fill="#111" text-anchor="start" font-weight="bold" font-style="normal" font-family="Liberation Sans" >d</text><rect x="942.4" y="188.8" width="74.2" height="67.4" fill="#a85662"/><path d="M942.4,188.8 L1003.8,188.8 L1002.4,193.27 L1000.9,194.07 L999.4,193.71 L997.9,192.94 L996.4,193.21 L994.9,191.96 L993.4,192.94 L991.9,193.33 L990.4,192.38 L988.9,190.47 L987.4,191.5 L985.9,191.3 L984.4,192.44 L982.9,192.7 L981.4,192.31 L979.9,191.99 L978.4,194.05 L976.9,193.52 L975.4,192.76 L973.9,192.1 L972.4,191.53 L970.9,192.17 L969.4,193.82 L967.9,193.53 L966.4,193.02 L964.9,192.05 L963.4,189.95 L961.9,190.01 L960.4,190.66 L958.9,191.4 L957.4,192.12 L955.9,192.01 L954.4,193.41 L952.9,193.03 L951.4,192.22 L949.9,190.27 L948.4,189.61 L946.9,190.18 L945.4,190.69 L943.9,190.33 L942.4,191.21Z" fill="#d6aeb0"/><linearGradient id="teal" x1="0" y1="0" x2="0" y2="1"><stop offset="0" stop-color="#58a6a2"/><stop offset="0.6" stop-color="#4a9a96"/><stop offset="1" stop-color="#2e8480"/></linearGradient><rect x="942.4" y="204.4" width="61.4" height="30.8" fill="url(#teal)"/><rect x="942.4" y="235.2" width="61.4" height="15" fill="#7c545c"/><rect x="942.4" y="250.2" width="74.2" height="6" fill="#3a3a3a"/><path d="M942.9,236V250.2M944.7,236V250.2M946.5,236V250.2M948.3,236V250.2M950.1,236V250.2M951.9,236V250.2M953.7,236V250.2M955.5,236V250.2M957.3,236V250.2M959.1,236V250.2M960.9,236V250.2M962.7,236V250.2M964.5,236V250.2M966.3,236V250.2M968.1,236V250.2M969.9,236V250.2M971.7,236V250.2M973.5,236V250.2M975.3,236V250.2M977.1,236V250.2M978.9,236V250.2M980.7,236V250.2M982.5,236V250.2M984.3,236V250.2M986.1,236V250.2M987.9,236V250.2M989.7,236V250.2M991.5,236V250.2M993.3,236V250.2M995.1,236V250.2M996.9,236V250.2M998.7,236V250.2M1000.5,236V250.2M1002.3,236V250.2" stroke="#000" stroke-width="0.7" opacity="0.12"/><rect x="1003.8" y="188.8" width="12.8" height="11.5" fill="#c87a78"/><rect x="1003.8" y="200.3" width="12.8" height="4.1" fill="#e6a454"/><rect x="1003.8" y="204.4" width="12.8" height="30.8" fill="#a8d8e8"/><rect x="1003.8" y="235.2" width="12.8" height="4.8" fill="#dcd4d4"/><rect x="1003.8" y="240" width="12.8" height="10.2" fill="#6a5252"/><g clip-path="url(#dclip)"><rect x="942.4" y="188.8" width="61.4" height="61.4" fill="#000" filter="url(#grain)" opacity="0.22"/><rect x="942.4" y="188.8" width="61.4" height="61.4" fill="#000" filter="url(#grainw)" opacity="0.15"/></g><clipPath id="dclip"><rect x="942.4" y="188.8" width="61.4" height="61.4"/></clipPath><text x="1010.2" y="220.5" font-size="3" fill="#335" text-anchor="middle" font-weight="bold" font-style="normal" font-family="Liberation Sans" >CZTSe</text><text x="1010.2" y="246.5" font-size="3" fill="#eee" text-anchor="middle" font-weight="bold" font-style="normal" font-family="Liberation Sans" >Mo</text><text x="1010.2" y="254.5" font-size="3" fill="#eee" text-anchor="middle" font-weight="bold" font-style="normal" font-family="Liberation Sans" >SLG</text><rect x="966" y="253" width="12" height="0.8" fill="#fff"/>
<rect x="785.1" y="326" width="62" height="40.6" fill="#bcbcbc"/><clipPath id="cl1"><path d="M785.1,353 L785.1,339.66 L787.1,341.09 L789.1,341.58 L791.1,341.21 L793.1,339.97 L795.1,341.65 L797.1,342.56 L799.1,341.83 L801.1,341.43 L803.1,340.16 L805.1,338.59 L807.1,339.28 L809.1,340.48 L811.1,339.02 L813.1,341.18 L815.1,340.02 L817.1,339.44 L819.1,338.39 L821.1,341.69 L823.1,342.3 L825.1,343.15 L827.1,342.54 L829.1,339.91 L831.1,339.77 L833.1,340.37 L835.1,339.15 L837.1,341.88 L839.1,340.92 L841.1,339.58 L843.1,341.56 L845.1,339.78 L847.1,342.1 L847.1,353Z"/></clipPath><path d="M785.1,353 L785.1,339.66 L787.1,341.09 L789.1,341.58 L791.1,341.21 L793.1,339.97 L795.1,341.65 L797.1,342.56 L799.1,341.83 L801.1,341.43 L803.1,340.16 L805.1,338.59 L807.1,339.28 L809.1,340.48 L811.1,339.02 L813.1,341.18 L815.1,340.02 L817.1,339.44 L819.1,338.39 L821.1,341.69 L823.1,342.3 L825.1,343.15 L827.1,342.54 L829.1,339.91 L831.1,339.77 L833.1,340.37 L835.1,339.15 L837.1,341.88 L839.1,340.92 L841.1,339.58 L843.1,341.56 L845.1,339.78 L847.1,342.1 L847.1,353Z" fill="#565656"/><path d="M785.1,339.66 L787.1,341.09 L789.1,341.58 L791.1,341.21 L793.1,339.97 L795.1,341.65 L797.1,342.56 L799.1,341.83 L801.1,341.43 L803.1,340.16 L805.1,338.59 L807.1,339.28 L809.1,340.48 L811.1,339.02 L813.1,341.18 L815.1,340.02 L817.1,339.44 L819.1,338.39 L821.1,341.69 L823.1,342.3 L825.1,343.15 L827.1,342.54 L829.1,339.91 L831.1,339.77 L833.1,340.37 L835.1,339.15 L837.1,341.88 L839.1,340.92 L841.1,339.58 L843.1,341.56 L845.1,339.78 L847.1,342.1" fill="none" stroke="#ddd" stroke-width="0.8" opacity="0.55"/><g clip-path="url(#cl1)"><rect x="785.1" y="326" width="62" height="27" fill="#000" filter="url(#grain)" opacity="0.38"/><rect x="785.1" y="326" width="62" height="27" fill="#000" filter="url(#grainw)" opacity="0.32"/></g><ellipse cx="800" cy="333" rx="12" ry="5" fill="#dadada" opacity="0.8" filter="url(#blur2)"/><ellipse cx="826" cy="332" rx="11" ry="4" fill="#8a8a8a" opacity="0.6" filter="url(#blur2)"/><ellipse cx="812" cy="339" rx="9" ry="3" fill="#e6e6e6" opacity="0.7" filter="url(#blur2)"/><rect x="785.1" y="353" width="62" height="6" fill="#6c6c6c"/><path d="M785.6,353V359M787.1,353V359M788.6,353V359M790.1,353V359M791.6,353V359M793.1,353V359M794.6,353V359M796.1,353V359M797.6,353V359M799.1,353V359M800.6,353V359M802.1,353V359M803.6,353V359M805.1,353V359M806.6,353V359M808.1,353V359M809.6,353V359M811.1,353V359M812.6,353V359M814.1,353V359M815.6,353V359M817.1,353V359M818.6,353V359M820.1,353V359M821.6,353V359M823.1,353V359M824.6,353V359M826.1,353V359M827.6,353V359M829.1,353V359M830.6,353V359M832.1,353V359M833.6,353V359M835.1,353V359M836.6,353V359M838.1,353V359M839.6,353V359M841.1,353V359M842.6,353V359M844.1,353V359M845.6,353V359" stroke="#000" stroke-width="0.6" opacity="0.25"/><rect x="785.1" y="359" width="62" height="7.6" fill="#3a3a3a"/><rect x="787.1" y="362.6" width="5" height="0.9" fill="#fff"/><text x="787.1" y="361.4" font-size="2.4" fill="#fff" text-anchor="start" font-weight="normal" font-style="normal" font-family="Liberation Sans" >1 μm</text><rect x="836" y="328" width="10" height="6.5" fill="#d42a36"/><text x="841" y="332.6" font-size="3.6" fill="#fff" text-anchor="middle" font-weight="bold" font-style="normal" font-family="Liberation Sans" >01</text><rect x="974.7" y="325" width="62.1" height="41.6" fill="#c4c4c4"/><clipPath id="cl2"><path d="M974.7,354 L974.7,339.83 L976.7,337.48 L978.7,335.83 L980.7,338.91 L982.7,337.19 L984.7,336.08 L986.7,337.65 L988.7,337.21 L990.7,339.16 L992.7,337.51 L994.7,339.59 L996.7,338.07 L998.7,338.44 L1000.7,339.95 L1002.7,339.72 L1004.7,340.55 L1006.7,340.11 L1008.7,337.25 L1010.7,339.15 L1012.7,338.93 L1014.7,337.71 L1016.7,336.62 L1018.7,338.71 L1020.7,338.68 L1022.7,340.09 L1024.7,340.14 L1026.7,340.92 L1028.7,339.72 L1030.7,339.66 L1032.7,339.28 L1034.7,337.67 L1036.7,339.66 L1036.8,354Z"/></clipPath><path d="M974.7,354 L974.7,339.83 L976.7,337.48 L978.7,335.83 L980.7,338.91 L982.7,337.19 L984.7,336.08 L986.7,337.65 L988.7,337.21 L990.7,339.16 L992.7,337.51 L994.7,339.59 L996.7,338.07 L998.7,338.44 L1000.7,339.95 L1002.7,339.72 L1004.7,340.55 L1006.7,340.11 L1008.7,337.25 L1010.7,339.15 L1012.7,338.93 L1014.7,337.71 L1016.7,336.62 L1018.7,338.71 L1020.7,338.68 L1022.7,340.09 L1024.7,340.14 L1026.7,340.92 L1028.7,339.72 L1030.7,339.66 L1032.7,339.28 L1034.7,337.67 L1036.7,339.66 L1036.8,354Z" fill="#4e4e4e"/><path d="M974.7,339.83 L976.7,337.48 L978.7,335.83 L980.7,338.91 L982.7,337.19 L984.7,336.08 L986.7,337.65 L988.7,337.21 L990.7,339.16 L992.7,337.51 L994.7,339.59 L996.7,338.07 L998.7,338.44 L1000.7,339.95 L1002.7,339.72 L1004.7,340.55 L1006.7,340.11 L1008.7,337.25 L1010.7,339.15 L1012.7,338.93 L1014.7,337.71 L1016.7,336.62 L1018.7,338.71 L1020.7,338.68 L1022.7,340.09 L1024.7,340.14 L1026.7,340.92 L1028.7,339.72 L1030.7,339.66 L1032.7,339.28 L1034.7,337.67 L1036.7,339.66" fill="none" stroke="#ddd" stroke-width="0.8" opacity="0.55"/><g clip-path="url(#cl2)"><rect x="974.7" y="325" width="62.1" height="29" fill="#000" filter="url(#grain)" opacity="0.38"/><rect x="974.7" y="325" width="62.1" height="29" fill="#000" filter="url(#grainw)" opacity="0.32"/></g><rect x="974.7" y="354" width="62.1" height="3" fill="#6a6a6a"/><path d="M975.2,354V357M976.7,354V357M978.2,354V357M979.7,354V357M981.2,354V357M982.7,354V357M984.2,354V357M985.7,354V357M987.2,354V357M988.7,354V357M990.2,354V357M991.7,354V357M993.2,354V357M994.7,354V357M996.2,354V357M997.7,354V357M999.2,354V357M1000.7,354V357M1002.2,354V357M1003.7,354V357M1005.2,354V357M1006.7,354V357M1008.2,354V357M1009.7,354V357M1011.2,354V357M1012.7,354V357M1014.2,354V357M1015.7,354V357M1017.2,354V357M1018.7,354V357M1020.2,354V357M1021.7,354V357M1023.2,354V357M1024.7,354V357M1026.2,354V357M1027.7,354V357M1029.2,354V357M1030.7,354V357M1032.2,354V357M1033.7,354V357M1035.2,354V357M1036.7,354V357" stroke="#000" stroke-width="0.6" opacity="0.25"/><rect x="974.7" y="357" width="62.1" height="9.6" fill="#dedede"/><rect x="976.7" y="362.6" width="5" height="0.9" fill="#fff"/><text x="976.7" y="361.4" font-size="2.4" fill="#fff" text-anchor="start" font-weight="normal" font-style="normal" font-family="Liberation Sans" >1 μm</text><text x="977.2" y="330" font-size="3.2" fill="#777" text-anchor="start" font-weight="bold" font-style="normal" font-family="Liberation Sans" >09/CTZ/0</text><rect x="1025" y="327.5" width="10" height="6.5" fill="#d42a36"/><text x="1030" y="332.1" font-size="3.6" fill="#fff" text-anchor="middle" font-weight="bold" font-style="normal" font-family="Liberation Sans" >09</text><rect x="785.1" y="373.2" width="62" height="42.3" fill="#1c1c1c"/><clipPath id="cl3"><path d="M785.1,400 L785.1,385.2 L787.1,384.04 L789.1,382.17 L791.1,384.35 L793.1,383.23 L795.1,382.9 L797.1,383.44 L799.1,384.93 L801.1,387.41 L803.1,386.01 L805.1,387.97 L807.1,388.95 L809.1,385.69 L811.1,383.21 L813.1,382.4 L815.1,385.41 L817.1,385.7 L819.1,387.44 L821.1,388.58 L823.1,387.56 L825.1,386.46 L827.1,383.57 L829.1,381.9 L831.1,384.98 L833.1,385.85 L835.1,386.74 L837.1,386.2 L839.1,386.47 L841.1,386.43 L843.1,387.69 L845.1,384.4 L847.1,384.67 L847.1,400Z"/></clipPath><path d="M785.1,400 L785.1,385.2 L787.1,384.04 L789.1,382.17 L791.1,384.35 L793.1,383.23 L795.1,382.9 L797.1,383.44 L799.1,384.93 L801.1,387.41 L803.1,386.01 L805.1,387.97 L807.1,388.95 L809.1,385.69 L811.1,383.21 L813.1,382.4 L815.1,385.41 L817.1,385.7 L819.1,387.44 L821.1,388.58 L823.1,387.56 L825.1,386.46 L827.1,383.57 L829.1,381.9 L831.1,384.98 L833.1,385.85 L835.1,386.74 L837.1,386.2 L839.1,386.47 L841.1,386.43 L843.1,387.69 L845.1,384.4 L847.1,384.67 L847.1,400Z" fill="#606060"/><path d="M785.1,385.2 L787.1,384.04 L789.1,382.17 L791.1,384.35 L793.1,383.23 L795.1,382.9 L797.1,383.44 L799.1,384.93 L801.1,387.41 L803.1,386.01 L805.1,387.97 L807.1,388.95 L809.1,385.69 L811.1,383.21 L813.1,382.4 L815.1,385.41 L817.1,385.7 L819.1,387.44 L821.1,388.58 L823.1,387.56 L825.1,386.46 L827.1,383.57 L829.1,381.9 L831.1,384.98 L833.1,385.85 L835.1,386.74 L837.1,386.2 L839.1,386.47 L841.1,386.43 L843.1,387.69 L845.1,384.4 L847.1,384.67" fill="none" stroke="#ddd" stroke-width="0.8" opacity="0.55"/><g clip-path="url(#cl3)"><rect x="785.1" y="373.2" width="62" height="26.8" fill="#000" filter="url(#grain)" opacity="0.38"/><rect x="785.1" y="373.2" width="62" height="26.8" fill="#000" filter="url(#grainw)" opacity="0.32"/></g><rect x="785.1" y="400" width="62" height="8" fill="#767676"/><path d="M785.6,400V408M787.1,400V408M788.6,400V408M790.1,400V408M791.6,400V408M793.1,400V408M794.6,400V408M796.1,400V408M797.6,400V408M799.1,400V408M800.6,400V408M802.1,400V408M803.6,400V408M805.1,400V408M806.6,400V408M808.1,400V408M809.6,400V408M811.1,400V408M812.6,400V408M814.1,400V408M815.6,400V408M817.1,400V408M818.6,400V408M820.1,400V408M821.6,400V408M823.1,400V408M824.6,400V408M826.1,400V408M827.6,400V408M829.1,400V408M830.6,400V408M832.1,400V408M833.6,400V408M835.1,400V408M836.6,400V408M838.1,400V408M839.6,400V408M841.1,400V408M842.6,400V408M844.1,400V408M845.6,400V408" stroke="#000" stroke-width="0.6" opacity="0.25"/><rect x="785.1" y="408" width="62" height="7.5" fill="#484848"/><rect x="787.1" y="411.5" width="5" height="0.9" fill="#fff"/><text x="787.1" y="410.3" font-size="2.4" fill="#fff" text-anchor="start" font-weight="normal" font-style="normal" font-family="Liberation Sans" >1 μm</text><text x="787.6" y="378.2" font-size="3.2" fill="#7fb4c8" text-anchor="start" font-weight="bold" font-style="normal" font-family="Liberation Sans" >10/CTZ/0</text><path d="M795,398 L805,395 L812,399 L806,401Z M826,397 L836,394 L842,398 L834,400Z" fill="#e8e8e8" opacity="0.8"/><rect x="835.9" y="375.2" width="10" height="6.5" fill="#d42a36"/><text x="840.9" y="379.8" font-size="3.6" fill="#fff" text-anchor="middle" font-weight="bold" font-style="normal" font-family="Liberation Sans" >03</text><rect x="848" y="373.2" width="62" height="42.3" fill="#1e1e1e"/><clipPath id="cl4"><path d="M848,400 L848,381.54 L850,381.11 L852,381.73 L854,382.92 L856,381.87 L858,381.27 L860,381.33 L862,382.94 L864,381.91 L866,383.18 L868,383.58 L870,382.2 L872,382.71 L874,382.7 L876,382.59 L878,384.28 L880,382.42 L882,381.27 L884,383.46 L886,382.94 L888,382.06 L890,382.02 L892,382.11 L894,383.92 L896,382.59 L898,381.95 L900,382.73 L902,383.01 L904,384.36 L906,384.7 L908,383.42 L910,382.32 L910,400Z"/></clipPath><path d="M848,400 L848,381.54 L850,381.11 L852,381.73 L854,382.92 L856,381.87 L858,381.27 L860,381.33 L862,382.94 L864,381.91 L866,383.18 L868,383.58 L870,382.2 L872,382.71 L874,382.7 L876,382.59 L878,384.28 L880,382.42 L882,381.27 L884,383.46 L886,382.94 L888,382.06 L890,382.02 L892,382.11 L894,383.92 L896,382.59 L898,381.95 L900,382.73 L902,383.01 L904,384.36 L906,384.7 L908,383.42 L910,382.32 L910,400Z" fill="#6c6c6c"/><path d="M848,381.54 L850,381.11 L852,381.73 L854,382.92 L856,381.87 L858,381.27 L860,381.33 L862,382.94 L864,381.91 L866,383.18 L868,383.58 L870,382.2 L872,382.71 L874,382.7 L876,382.59 L878,384.28 L880,382.42 L882,381.27 L884,383.46 L886,382.94 L888,382.06 L890,382.02 L892,382.11 L894,383.92 L896,382.59 L898,381.95 L900,382.73 L902,383.01 L904,384.36 L906,384.7 L908,383.42 L910,382.32" fill="none" stroke="#ddd" stroke-width="0.8" opacity="0.55"/><g clip-path="url(#cl4)"><rect x="848" y="373.2" width="62" height="26.8" fill="#000" filter="url(#grain)" opacity="0.38"/><rect x="848" y="373.2" width="62" height="26.8" fill="#000" filter="url(#grainw)" opacity="0.32"/></g><rect x="848" y="400" width="62" height="4" fill="#7a7a7a"/><path d="M848.5,400V404M850,400V404M851.5,400V404M853,400V404M854.5,400V404M856,400V404M857.5,400V404M859,400V404M860.5,400V404M862,400V404M863.5,400V404M865,400V404M866.5,400V404M868,400V404M869.5,400V404M871,400V404M872.5,400V404M874,400V404M875.5,400V404M877,400V404M878.5,400V404M880,400V404M881.5,400V404M883,400V404M884.5,400V404M886,400V404M887.5,400V404M889,400V404M890.5,400V404M892,400V404M893.5,400V404M895,400V404M896.5,400V404M898,400V404M899.5,400V404M901,400V404M902.5,400V404M904,400V404M905.5,400V404M907,400V404M908.5,400V404" stroke="#000" stroke-width="0.6" opacity="0.25"/><rect x="848" y="404" width="62" height="11.5" fill="#2a2a2a"/><ellipse cx="879" cy="409.75" rx="21.7" ry="5.75" fill="#5a5a5a" opacity="0.6" filter="url(#blur2)"/><rect x="850" y="411.5" width="5" height="0.9" fill="#fff"/><text x="850" y="410.3" font-size="2.4" fill="#fff" text-anchor="start" font-weight="normal" font-style="normal" font-family="Liberation Sans" >1 μm</text><text x="850.5" y="378.2" font-size="3.2" fill="#7fb4c8" text-anchor="start" font-weight="bold" font-style="normal" font-family="Liberation Sans" >20/CTZ/0</text><rect x="898.8" y="375.2" width="10" height="6.5" fill="#d42a36"/><text x="903.8" y="379.8" font-size="3.6" fill="#fff" text-anchor="middle" font-weight="bold" font-style="normal" font-family="Liberation Sans" >04</text><rect x="911.2" y="373.2" width="61.4" height="42.3" fill="#222222"/><clipPath id="cl5"><path d="M911.2,399 L911.2,384.73 L913.2,384.51 L915.2,384.66 L917.2,386.53 L919.2,386.25 L921.2,386.79 L923.2,385.19 L925.2,385.62 L927.2,386.84 L929.2,386.49 L931.2,387.58 L933.2,387.93 L935.2,386.58 L937.2,384.79 L939.2,386.16 L941.2,384.96 L943.2,384.01 L945.2,385.7 L947.2,386.88 L949.2,387.45 L951.2,388.08 L953.2,386.15 L955.2,384.82 L957.2,384.27 L959.2,386.57 L961.2,385.12 L963.2,384.54 L965.2,383.83 L967.2,383.56 L969.2,383.4 L971.2,384.26 L972.6,399Z"/></clipPath><path d="M911.2,399 L911.2,384.73 L913.2,384.51 L915.2,384.66 L917.2,386.53 L919.2,386.25 L921.2,386.79 L923.2,385.19 L925.2,385.62 L927.2,386.84 L929.2,386.49 L931.2,387.58 L933.2,387.93 L935.2,386.58 L937.2,384.79 L939.2,386.16 L941.2,384.96 L943.2,384.01 L945.2,385.7 L947.2,386.88 L949.2,387.45 L951.2,388.08 L953.2,386.15 L955.2,384.82 L957.2,384.27 L959.2,386.57 L961.2,385.12 L963.2,384.54 L965.2,383.83 L967.2,383.56 L969.2,383.4 L971.2,384.26 L972.6,399Z" fill="#646464"/><path d="M911.2,384.73 L913.2,384.51 L915.2,384.66 L917.2,386.53 L919.2,386.25 L921.2,386.79 L923.2,385.19 L925.2,385.62 L927.2,386.84 L929.2,386.49 L931.2,387.58 L933.2,387.93 L935.2,386.58 L937.2,384.79 L939.2,386.16 L941.2,384.96 L943.2,384.01 L945.2,385.7 L947.2,386.88 L949.2,387.45 L951.2,388.08 L953.2,386.15 L955.2,384.82 L957.2,384.27 L959.2,386.57 L961.2,385.12 L963.2,384.54 L965.2,383.83 L967.2,383.56 L969.2,383.4 L971.2,384.26" fill="none" stroke="#ddd" stroke-width="0.8" opacity="0.55"/><g clip-path="url(#cl5)"><rect x="911.2" y="373.2" width="61.4" height="25.8" fill="#000" filter="url(#grain)" opacity="0.38"/><rect x="911.2" y="373.2" width="61.4" height="25.8" fill="#000" filter="url(#grainw)" opacity="0.32"/></g><rect x="911.2" y="399" width="61.4" height="9" fill="#727272"/><path d="M911.7,399V408M913.2,399V408M914.7,399V408M916.2,399V408M917.7,399V408M919.2,399V408M920.7,399V408M922.2,399V408M923.7,399V408M925.2,399V408M926.7,399V408M928.2,399V408M929.7,399V408M931.2,399V408M932.7,399V408M934.2,399V408M935.7,399V408M937.2,399V408M938.7,399V408M940.2,399V408M941.7,399V408M943.2,399V408M944.7,399V408M946.2,399V408M947.7,399V408M949.2,399V408M950.7,399V408M952.2,399V408M953.7,399V408M955.2,399V408M956.7,399V408M958.2,399V408M959.7,399V408M961.2,399V408M962.7,399V408M964.2,399V408M965.7,399V408M967.2,399V408M968.7,399V408M970.2,399V408M971.7,399V408" stroke="#000" stroke-width="0.6" opacity="0.25"/><rect x="911.2" y="408" width="61.4" height="7.5" fill="#262626"/><rect x="913.2" y="411.5" width="5" height="0.9" fill="#fff"/><text x="913.2" y="410.3" font-size="2.4" fill="#fff" text-anchor="start" font-weight="normal" font-style="normal" font-family="Liberation Sans" >1 μm</text><text x="913.7" y="378.2" font-size="3.2" fill="#7fb4c8" text-anchor="start" font-weight="bold" font-style="normal" font-family="Liberation Sans" >10/CTZ/0</text><rect x="961.4" y="375.2" width="10" height="6.5" fill="#d42a36"/><text x="966.4" y="379.8" font-size="3.6" fill="#fff" text-anchor="middle" font-weight="bold" font-style="normal" font-family="Liberation Sans" >05</text><rect x="974.5" y="373.2" width="61.9" height="42.3" fill="#202020"/><clipPath id="cl6"><path d="M974.5,402 L974.5,387.21 L976.5,387.5 L978.5,388.2 L980.5,386.93 L982.5,387.42 L984.5,388.38 L986.5,388.92 L988.5,387.02 L990.5,387.46 L992.5,387.58 L994.5,387.3 L996.5,388.55 L998.5,387.86 L1000.5,387.27 L1002.5,388.46 L1004.5,388.14 L1006.5,386.97 L1008.5,386.41 L1010.5,386.7 L1012.5,385.51 L1014.5,386.58 L1016.5,387.5 L1018.5,387.03 L1020.5,388.05 L1022.5,388.81 L1024.5,388.07 L1026.5,388.08 L1028.5,386.39 L1030.5,385.36 L1032.5,387.62 L1034.5,386.66 L1036.4,402Z"/></clipPath><path d="M974.5,402 L974.5,387.21 L976.5,387.5 L978.5,388.2 L980.5,386.93 L982.5,387.42 L984.5,388.38 L986.5,388.92 L988.5,387.02 L990.5,387.46 L992.5,387.58 L994.5,387.3 L996.5,388.55 L998.5,387.86 L1000.5,387.27 L1002.5,388.46 L1004.5,388.14 L1006.5,386.97 L1008.5,386.41 L1010.5,386.7 L1012.5,385.51 L1014.5,386.58 L1016.5,387.5 L1018.5,387.03 L1020.5,388.05 L1022.5,388.81 L1024.5,388.07 L1026.5,388.08 L1028.5,386.39 L1030.5,385.36 L1032.5,387.62 L1034.5,386.66 L1036.4,402Z" fill="#5e5e5e"/><path d="M974.5,387.21 L976.5,387.5 L978.5,388.2 L980.5,386.93 L982.5,387.42 L984.5,388.38 L986.5,388.92 L988.5,387.02 L990.5,387.46 L992.5,387.58 L994.5,387.3 L996.5,388.55 L998.5,387.86 L1000.5,387.27 L1002.5,388.46 L1004.5,388.14 L1006.5,386.97 L1008.5,386.41 L1010.5,386.7 L1012.5,385.51 L1014.5,386.58 L1016.5,387.5 L1018.5,387.03 L1020.5,388.05 L1022.5,388.81 L1024.5,388.07 L1026.5,388.08 L1028.5,386.39 L1030.5,385.36 L1032.5,387.62 L1034.5,386.66" fill="none" stroke="#ddd" stroke-width="0.8" opacity="0.55"/><g clip-path="url(#cl6)"><rect x="974.5" y="373.2" width="61.9" height="28.8" fill="#000" filter="url(#grain)" opacity="0.38"/><rect x="974.5" y="373.2" width="61.9" height="28.8" fill="#000" filter="url(#grainw)" opacity="0.32"/></g><rect x="974.5" y="402" width="61.9" height="0.01" fill="#707070"/><path d="M975,402V402.01M976.5,402V402.01M978,402V402.01M979.5,402V402.01M981,402V402.01M982.5,402V402.01M984,402V402.01M985.5,402V402.01M987,402V402.01M988.5,402V402.01M990,402V402.01M991.5,402V402.01M993,402V402.01M994.5,402V402.01M996,402V402.01M997.5,402V402.01M999,402V402.01M1000.5,402V402.01M1002,402V402.01M1003.5,402V402.01M1005,402V402.01M1006.5,402V402.01M1008,402V402.01M1009.5,402V402.01M1011,402V402.01M1012.5,402V402.01M1014,402V402.01M1015.5,402V402.01M1017,402V402.01M1018.5,402V402.01M1020,402V402.01M1021.5,402V402.01M1023,402V402.01M1024.5,402V402.01M1026,402V402.01M1027.5,402V402.01M1029,402V402.01M1030.5,402V402.01M1032,402V402.01M1033.5,402V402.01M1035,402V402.01" stroke="#000" stroke-width="0.6" opacity="0.25"/><rect x="974.5" y="402.01" width="61.9" height="13.49" fill="#353535"/><ellipse cx="1005.45" cy="408.75" rx="21.67" ry="6.75" fill="#6a6a6a" opacity="0.6" filter="url(#blur2)"/><rect x="976.5" y="411.5" width="5" height="0.9" fill="#fff"/><text x="976.5" y="410.3" font-size="2.4" fill="#fff" text-anchor="start" font-weight="normal" font-style="normal" font-family="Liberation Sans" >1 μm</text><text x="977" y="378.2" font-size="3.2" fill="#7fb4c8" text-anchor="start" font-weight="bold" font-style="normal" font-family="Liberation Sans" >20/CTZ/0</text><rect x="1025.2" y="375.2" width="10" height="6.5" fill="#d42a36"/><text x="1030.2" y="379.8" font-size="3.6" fill="#fff" text-anchor="middle" font-weight="bold" font-style="normal" font-family="Liberation Sans" >06</text><rect x="785.1" y="418.6" width="62" height="41.8" fill="#bababa"/><clipPath id="cl7"><path d="M785.1,453.5 L785.1,437.83 L787.1,439.43 L789.1,436.84 L791.1,436.55 L793.1,439.12 L795.1,439.22 L797.1,437.12 L799.1,436.95 L801.1,439 L803.1,438.26 L805.1,436.25 L807.1,438.71 L809.1,436.87 L811.1,438 L813.1,438.48 L815.1,438.08 L817.1,439.89 L819.1,437.65 L821.1,438.24 L823.1,436.58 L825.1,439.15 L827.1,437.15 L829.1,437.63 L831.1,439.15 L833.1,440.11 L835.1,437.44 L837.1,439.23 L839.1,439.99 L841.1,438.26 L843.1,439.15 L845.1,437.49 L847.1,436.36 L847.1,453.5Z"/></clipPath><path d="M785.1,453.5 L785.1,437.83 L787.1,439.43 L789.1,436.84 L791.1,436.55 L793.1,439.12 L795.1,439.22 L797.1,437.12 L799.1,436.95 L801.1,439 L803.1,438.26 L805.1,436.25 L807.1,438.71 L809.1,436.87 L811.1,438 L813.1,438.48 L815.1,438.08 L817.1,439.89 L819.1,437.65 L821.1,438.24 L823.1,436.58 L825.1,439.15 L827.1,437.15 L829.1,437.63 L831.1,439.15 L833.1,440.11 L835.1,437.44 L837.1,439.23 L839.1,439.99 L841.1,438.26 L843.1,439.15 L845.1,437.49 L847.1,436.36 L847.1,453.5Z" fill="#444444"/><path d="M785.1,437.83 L787.1,439.43 L789.1,436.84 L791.1,436.55 L793.1,439.12 L795.1,439.22 L797.1,437.12 L799.1,436.95 L801.1,439 L803.1,438.26 L805.1,436.25 L807.1,438.71 L809.1,436.87 L811.1,438 L813.1,438.48 L815.1,438.08 L817.1,439.89 L819.1,437.65 L821.1,438.24 L823.1,436.58 L825.1,439.15 L827.1,437.15 L829.1,437.63 L831.1,439.15 L833.1,440.11 L835.1,437.44 L837.1,439.23 L839.1,439.99 L841.1,438.26 L843.1,439.15 L845.1,437.49 L847.1,436.36" fill="none" stroke="#ddd" stroke-width="0.8" opacity="0.55"/><g clip-path="url(#cl7)"><rect x="785.1" y="418.6" width="62" height="34.9" fill="#000" filter="url(#grain)" opacity="0.38"/><rect x="785.1" y="418.6" width="62" height="34.9" fill="#000" filter="url(#grainw)" opacity="0.32"/></g><path d="M795,438 L803,426 L807,438Z M812,438 L820,424 L826,438Z M828,437 L836,423 L834,438Z M800,437 L790,430 L794,438Z" fill="#f2f2f2" stroke="#777" stroke-width="0.4" opacity="0.9"/><rect x="785.1" y="453.5" width="62" height="0.01" fill="#6a6a6a"/><path d="M785.6,453.5V453.51M787.1,453.5V453.51M788.6,453.5V453.51M790.1,453.5V453.51M791.6,453.5V453.51M793.1,453.5V453.51M794.6,453.5V453.51M796.1,453.5V453.51M797.6,453.5V453.51M799.1,453.5V453.51M800.6,453.5V453.51M802.1,453.5V453.51M803.6,453.5V453.51M805.1,453.5V453.51M806.6,453.5V453.51M808.1,453.5V453.51M809.6,453.5V453.51M811.1,453.5V453.51M812.6,453.5V453.51M814.1,453.5V453.51M815.6,453.5V453.51M817.1,453.5V453.51M818.6,453.5V453.51M820.1,453.5V453.51M821.6,453.5V453.51M823.1,453.5V453.51M824.6,453.5V453.51M826.1,453.5V453.51M827.6,453.5V453.51M829.1,453.5V453.51M830.6,453.5V453.51M832.1,453.5V453.51M833.6,453.5V453.51M835.1,453.5V453.51M836.6,453.5V453.51M838.1,453.5V453.51M839.6,453.5V453.51M841.1,453.5V453.51M842.6,453.5V453.51M844.1,453.5V453.51M845.6,453.5V453.51" stroke="#000" stroke-width="0.6" opacity="0.25"/><rect x="785.1" y="453.51" width="62" height="6.89" fill="#c6c6c6"/><ellipse cx="816.1" cy="456.95" rx="21.7" ry="3.44" fill="#e0e0e0" opacity="0.6" filter="url(#blur2)"/><rect x="787.1" y="456.4" width="5" height="0.9" fill="#fff"/><text x="787.1" y="455.2" font-size="2.4" fill="#fff" text-anchor="start" font-weight="normal" font-style="normal" font-family="Liberation Sans" >1 μm</text><text x="787.6" y="423.6" font-size="3.2" fill="#8ab0d0" text-anchor="start" font-weight="bold" font-style="normal" font-family="Liberation Sans" >20/CTZ/0</text><rect x="835.9" y="420.2" width="10" height="6.5" fill="#d42a36"/><text x="840.9" y="424.8" font-size="3.6" fill="#fff" text-anchor="middle" font-weight="bold" font-style="normal" font-family="Liberation Sans" >07</text><rect x="848" y="418.6" width="62" height="41.8" fill="#d0d0d0"/><clipPath id="cl8"><path d="M848,448 L848,433.52 L850,432.68 L852,432.01 L854,434.66 L856,434.64 L858,435.08 L860,434.75 L862,433.91 L864,434.88 L866,434.75 L868,435.5 L870,435.4 L872,436.05 L874,434.79 L876,433.01 L878,432.11 L880,433.95 L882,432.64 L884,433.94 L886,434.45 L888,432.46 L890,434.37 L892,432.32 L894,434.63 L896,435.68 L898,433.7 L900,434.76 L902,435.31 L904,433.15 L906,434.26 L908,432.62 L910,434.96 L910,448Z"/></clipPath><path d="M848,448 L848,433.52 L850,432.68 L852,432.01 L854,434.66 L856,434.64 L858,435.08 L860,434.75 L862,433.91 L864,434.88 L866,434.75 L868,435.5 L870,435.4 L872,436.05 L874,434.79 L876,433.01 L878,432.11 L880,433.95 L882,432.64 L884,433.94 L886,434.45 L888,432.46 L890,434.37 L892,432.32 L894,434.63 L896,435.68 L898,433.7 L900,434.76 L902,435.31 L904,433.15 L906,434.26 L908,432.62 L910,434.96 L910,448Z" fill="#444444"/><path d="M848,433.52 L850,432.68 L852,432.01 L854,434.66 L856,434.64 L858,435.08 L860,434.75 L862,433.91 L864,434.88 L866,434.75 L868,435.5 L870,435.4 L872,436.05 L874,434.79 L876,433.01 L878,432.11 L880,433.95 L882,432.64 L884,433.94 L886,434.45 L888,432.46 L890,434.37 L892,432.32 L894,434.63 L896,435.68 L898,433.7 L900,434.76 L902,435.31 L904,433.15 L906,434.26 L908,432.62 L910,434.96" fill="none" stroke="#ddd" stroke-width="0.8" opacity="0.55"/><g clip-path="url(#cl8)"><rect x="848" y="418.6" width="62" height="29.4" fill="#000" filter="url(#grain)" opacity="0.38"/><rect x="848" y="418.6" width="62" height="29.4" fill="#000" filter="url(#grainw)" opacity="0.32"/></g><rect x="848" y="448" width="62" height="7" fill="#505050"/><path d="M848.5,448V455M850,448V455M851.5,448V455M853,448V455M854.5,448V455M856,448V455M857.5,448V455M859,448V455M860.5,448V455M862,448V455M863.5,448V455M865,448V455M866.5,448V455M868,448V455M869.5,448V455M871,448V455M872.5,448V455M874,448V455M875.5,448V455M877,448V455M878.5,448V455M880,448V455M881.5,448V455M883,448V455M884.5,448V455M886,448V455M887.5,448V455M889,448V455M890.5,448V455M892,448V455M893.5,448V455M895,448V455M896.5,448V455M898,448V455M899.5,448V455M901,448V455M902.5,448V455M904,448V455M905.5,448V455M907,448V455M908.5,448V455" stroke="#000" stroke-width="0.6" opacity="0.25"/><rect x="848" y="455" width="62" height="5.4" fill="#b4b4b4"/><ellipse cx="879" cy="457.7" rx="21.7" ry="2.7" fill="#d8d8d8" opacity="0.6" filter="url(#blur2)"/><rect x="850" y="456.4" width="5" height="0.9" fill="#fff"/><text x="850" y="455.2" font-size="2.4" fill="#fff" text-anchor="start" font-weight="normal" font-style="normal" font-family="Liberation Sans" >1 μm</text><text x="850.5" y="423.6" font-size="3.2" fill="#8ab0d0" text-anchor="start" font-weight="bold" font-style="normal" font-family="Liberation Sans" >20/CTZ/0</text><rect x="898.8" y="420.2" width="10" height="6.5" fill="#d42a36"/><text x="903.8" y="424.8" font-size="3.6" fill="#fff" text-anchor="middle" font-weight="bold" font-style="normal" font-family="Liberation Sans" >08</text><rect x="911.2" y="418.6" width="61.4" height="41.8" fill="#3a3a3a"/><clipPath id="cl9"><path d="M911.2,445 L911.2,428.56 L913.2,426.38 L915.2,426.29 L917.2,426.04 L919.2,427.96 L921.2,428.69 L923.2,429.91 L925.2,427.3 L927.2,427.34 L929.2,425.79 L931.2,425.77 L933.2,426.91 L935.2,425.56 L937.2,425.57 L939.2,427.39 L941.2,427.87 L943.2,426.82 L945.2,427.77 L947.2,429.12 L949.2,426.59 L951.2,428.52 L953.2,429.05 L955.2,427.89 L957.2,426.57 L959.2,429.11 L961.2,427.9 L963.2,426.32 L965.2,425.55 L967.2,428.16 L969.2,428.5 L971.2,429.48 L972.6,445Z"/></clipPath><path d="M911.2,445 L911.2,428.56 L913.2,426.38 L915.2,426.29 L917.2,426.04 L919.2,427.96 L921.2,428.69 L923.2,429.91 L925.2,427.3 L927.2,427.34 L929.2,425.79 L931.2,425.77 L933.2,426.91 L935.2,425.56 L937.2,425.57 L939.2,427.39 L941.2,427.87 L943.2,426.82 L945.2,427.77 L947.2,429.12 L949.2,426.59 L951.2,428.52 L953.2,429.05 L955.2,427.89 L957.2,426.57 L959.2,429.11 L961.2,427.9 L963.2,426.32 L965.2,425.55 L967.2,428.16 L969.2,428.5 L971.2,429.48 L972.6,445Z" fill="#888888"/><path d="M911.2,428.56 L913.2,426.38 L915.2,426.29 L917.2,426.04 L919.2,427.96 L921.2,428.69 L923.2,429.91 L925.2,427.3 L927.2,427.34 L929.2,425.79 L931.2,425.77 L933.2,426.91 L935.2,425.56 L937.2,425.57 L939.2,427.39 L941.2,427.87 L943.2,426.82 L945.2,427.77 L947.2,429.12 L949.2,426.59 L951.2,428.52 L953.2,429.05 L955.2,427.89 L957.2,426.57 L959.2,429.11 L961.2,427.9 L963.2,426.32 L965.2,425.55 L967.2,428.16 L969.2,428.5 L971.2,429.48" fill="none" stroke="#ddd" stroke-width="0.8" opacity="0.55"/><g clip-path="url(#cl9)"><rect x="911.2" y="418.6" width="61.4" height="26.4" fill="#000" filter="url(#grain)" opacity="0.38"/><rect x="911.2" y="418.6" width="61.4" height="26.4" fill="#000" filter="url(#grainw)" opacity="0.32"/></g><ellipse cx="920" cy="441" rx="2.2" ry="2.6" fill="#111"/><ellipse cx="931" cy="441" rx="2.2" ry="2.6" fill="#111"/><ellipse cx="942" cy="441" rx="2.2" ry="2.6" fill="#111"/><ellipse cx="953" cy="441" rx="2.2" ry="2.6" fill="#111"/><ellipse cx="964" cy="441" rx="2.2" ry="2.6" fill="#111"/><rect x="911.2" y="445" width="61.4" height="6" fill="#7a7a7a"/><path d="M911.7,445V451M913.2,445V451M914.7,445V451M916.2,445V451M917.7,445V451M919.2,445V451M920.7,445V451M922.2,445V451M923.7,445V451M925.2,445V451M926.7,445V451M928.2,445V451M929.7,445V451M931.2,445V451M932.7,445V451M934.2,445V451M935.7,445V451M937.2,445V451M938.7,445V451M940.2,445V451M941.7,445V451M943.2,445V451M944.7,445V451M946.2,445V451M947.7,445V451M949.2,445V451M950.7,445V451M952.2,445V451M953.7,445V451M955.2,445V451M956.7,445V451M958.2,445V451M959.7,445V451M961.2,445V451M962.7,445V451M964.2,445V451M965.7,445V451M967.2,445V451M968.7,445V451M970.2,445V451M971.7,445V451" stroke="#000" stroke-width="0.6" opacity="0.25"/><rect x="911.2" y="451" width="61.4" height="9.4" fill="#2c2c2c"/><rect x="913.2" y="456.4" width="5" height="0.9" fill="#fff"/><text x="913.2" y="455.2" font-size="2.4" fill="#fff" text-anchor="start" font-weight="normal" font-style="normal" font-family="Liberation Sans" >1 μm</text><text x="913.7" y="423.6" font-size="3.2" fill="#8ab0d0" text-anchor="start" font-weight="bold" font-style="normal" font-family="Liberation Sans" >20/CTZ/0</text><rect x="961.4" y="420.2" width="10" height="6.5" fill="#d42a36"/><text x="966.4" y="424.8" font-size="3.6" fill="#fff" text-anchor="middle" font-weight="bold" font-style="normal" font-family="Liberation Sans" >09</text><rect x="974.5" y="418.6" width="61.9" height="41.8" fill="#121212"/><clipPath id="cl10"><path d="M974.5,450 L974.5,424.77 L976.5,427.76 L978.5,425.39 L980.5,426.43 L982.5,428.42 L984.5,430.26 L986.5,428.8 L988.5,428.39 L990.5,424.83 L992.5,425.94 L994.5,426.08 L996.5,429.5 L998.5,429.08 L1000.5,430.33 L1002.5,428.7 L1004.5,426.08 L1006.5,429.5 L1008.5,430.99 L1010.5,428.63 L1012.5,425.48 L1014.5,426.83 L1016.5,427.39 L1018.5,429.6 L1020.5,429.48 L1022.5,428.79 L1024.5,428.92 L1026.5,427.6 L1028.5,424.64 L1030.5,423.25 L1032.5,428.72 L1034.5,430.73 L1036.4,450Z"/></clipPath><path d="M974.5,450 L974.5,424.77 L976.5,427.76 L978.5,425.39 L980.5,426.43 L982.5,428.42 L984.5,430.26 L986.5,428.8 L988.5,428.39 L990.5,424.83 L992.5,425.94 L994.5,426.08 L996.5,429.5 L998.5,429.08 L1000.5,430.33 L1002.5,428.7 L1004.5,426.08 L1006.5,429.5 L1008.5,430.99 L1010.5,428.63 L1012.5,425.48 L1014.5,426.83 L1016.5,427.39 L1018.5,429.6 L1020.5,429.48 L1022.5,428.79 L1024.5,428.92 L1026.5,427.6 L1028.5,424.64 L1030.5,423.25 L1032.5,428.72 L1034.5,430.73 L1036.4,450Z" fill="#7c7c7c"/><path d="M974.5,424.77 L976.5,427.76 L978.5,425.39 L980.5,426.43 L982.5,428.42 L984.5,430.26 L986.5,428.8 L988.5,428.39 L990.5,424.83 L992.5,425.94 L994.5,426.08 L996.5,429.5 L998.5,429.08 L1000.5,430.33 L1002.5,428.7 L1004.5,426.08 L1006.5,429.5 L1008.5,430.99 L1010.5,428.63 L1012.5,425.48 L1014.5,426.83 L1016.5,427.39 L1018.5,429.6 L1020.5,429.48 L1022.5,428.79 L1024.5,428.92 L1026.5,427.6 L1028.5,424.64 L1030.5,423.25 L1032.5,428.72 L1034.5,430.73" fill="none" stroke="#ddd" stroke-width="0.8" opacity="0.55"/><g clip-path="url(#cl10)"><rect x="974.5" y="418.6" width="61.9" height="31.4" fill="#000" filter="url(#grain)" opacity="0.38"/><rect x="974.5" y="418.6" width="61.9" height="31.4" fill="#000" filter="url(#grainw)" opacity="0.32"/></g><path d="M1001,450 Q1001,436 1014,434 Q1028,435 1029,450Z" fill="#101010"/><path d="M995,450 Q994,428 1014,424 Q1034,426 1036,436" fill="none" stroke="#b0b0b0" stroke-width="1.2" opacity="0.7"/><rect x="974.5" y="450" width="61.9" height="5" fill="#686868"/><path d="M975,450V455M976.5,450V455M978,450V455M979.5,450V455M981,450V455M982.5,450V455M984,450V455M985.5,450V455M987,450V455M988.5,450V455M990,450V455M991.5,450V455M993,450V455M994.5,450V455M996,450V455M997.5,450V455M999,450V455M1000.5,450V455M1002,450V455M1003.5,450V455M1005,450V455M1006.5,450V455M1008,450V455M1009.5,450V455M1011,450V455M1012.5,450V455M1014,450V455M1015.5,450V455M1017,450V455M1018.5,450V455M1020,450V455M1021.5,450V455M1023,450V455M1024.5,450V455M1026,450V455M1027.5,450V455M1029,450V455M1030.5,450V455M1032,450V455M1033.5,450V455M1035,450V455" stroke="#000" stroke-width="0.6" opacity="0.25"/><rect x="974.5" y="455" width="61.9" height="5.4" fill="#2a2a2a"/><rect x="976.5" y="456.4" width="5" height="0.9" fill="#fff"/><text x="976.5" y="455.2" font-size="2.4" fill="#fff" text-anchor="start" font-weight="normal" font-style="normal" font-family="Liberation Sans" >1 μm</text><text x="977" y="423.6" font-size="3.2" fill="#8ab0d0" text-anchor="start" font-weight="bold" font-style="normal" font-family="Liberation Sans" >20/CTZ/0</text><rect x="1025.2" y="420.2" width="10" height="6.5" fill="#d42a36"/><text x="1030.2" y="424.8" font-size="3.6" fill="#fff" text-anchor="middle" font-weight="bold" font-style="normal" font-family="Liberation Sans" >10</text>
<rect x="865" y="325.5" width="103.5" height="34.9" fill="#fff"/><rect x="881.9" y="325.5" width="42.7" height="34.9" fill="#fde2c6"/><rect x="924.6" y="335" width="19.9" height="25.4" fill="#f5a64a"/><rect x="865" y="325.5" width="103.5" height="34.9" fill="none" stroke="#666" stroke-width="0.6"/><path d="M865,359.5 L881.9,359.5 L898.1,341.5 L924.6,341.5 L931.8,333.6 L945,333.6 L945.98,336.28 L946.96,338.65 L947.94,340.74 L948.92,342.59 L949.9,344.21 L950.88,345.65 L951.85,346.92 L952.83,348.04 L953.81,349.02 L954.79,349.89 L955.77,350.66 L956.75,351.34 L957.73,351.94 L958.71,352.47 L959.69,352.93 L960.67,353.35 L961.65,353.71 L962.62,354.03 L963.6,354.31 L964.58,354.56 L965.56,354.78 L966.54,354.98 L967.52,355.15 L968.5,355.3" fill="none" stroke="#c83040" stroke-width="1"/><circle cx="881.9" cy="359.5" r="1.2" fill="#c83040"/><circle cx="898.1" cy="341.5" r="1.2" fill="#c83040"/><circle cx="924.6" cy="341.5" r="1.2" fill="#c83040"/><circle cx="931.8" cy="333.6" r="1.2" fill="#c83040"/><circle cx="945" cy="333.6" r="1.2" fill="#c83040"/><rect x="878.9" y="349.5" width="9" height="5.6" fill="#c8283a"/><text x="883.4" y="353.7" font-size="3.2" fill="#fff" text-anchor="middle" font-weight="bold" font-style="normal" font-family="Liberation Sans" >02</text><rect x="893.5" y="332.2" width="9" height="5.6" fill="#c8283a"/><text x="898" y="336.4" font-size="3.2" fill="#fff" text-anchor="middle" font-weight="bold" font-style="normal" font-family="Liberation Sans" >03</text><rect x="920.6" y="333.4" width="9" height="5.6" fill="#c8283a"/><text x="925.1" y="337.6" font-size="3.2" fill="#fff" text-anchor="middle" font-weight="bold" font-style="normal" font-family="Liberation Sans" >05</text><rect x="928" y="325" width="9" height="5.6" fill="#c8283a"/><text x="932.5" y="329.2" font-size="3.2" fill="#fff" text-anchor="middle" font-weight="bold" font-style="normal" font-family="Liberation Sans" >06</text><rect x="941" y="325" width="9" height="5.6" fill="#c8283a"/><text x="945.5" y="329.2" font-size="3.2" fill="#fff" text-anchor="middle" font-weight="bold" font-style="normal" font-family="Liberation Sans" >08</text><text x="864" y="360.9" font-size="4.2" fill="#444" text-anchor="end" font-weight="normal" font-style="normal" font-family="Liberation Sans" >0</text><text x="864" y="352.27" font-size="4.2" fill="#444" text-anchor="end" font-weight="normal" font-style="normal" font-family="Liberation Sans" >200</text><text x="864" y="343.63" font-size="4.2" fill="#444" text-anchor="end" font-weight="normal" font-style="normal" font-family="Liberation Sans" >400</text><text x="864" y="335" font-size="4.2" fill="#444" text-anchor="end" font-weight="normal" font-style="normal" font-family="Liberation Sans" >600</text><text x="881.9" y="365.6" font-size="4.2" fill="#444" text-anchor="middle" font-weight="normal" font-style="normal" font-family="Liberation Sans" >0</text><text x="899.1" y="365.6" font-size="4.2" fill="#444" text-anchor="middle" font-weight="normal" font-style="normal" font-family="Liberation Sans" >20</text><text x="916.3" y="365.6" font-size="4.2" fill="#444" text-anchor="middle" font-weight="normal" font-style="normal" font-family="Liberation Sans" >40</text><text x="933.5" y="365.6" font-size="4.2" fill="#444" text-anchor="middle" font-weight="normal" font-style="normal" font-family="Liberation Sans" >60</text><text x="950.7" y="365.6" font-size="4.2" fill="#444" text-anchor="middle" font-weight="normal" font-style="normal" font-family="Liberation Sans" >80</text><text x="912" y="369.5" font-size="4.2" fill="#444" text-anchor="middle" font-weight="normal" font-style="normal" font-family="Liberation Sans" >Time (min)</text><g transform="translate(854.5,343) rotate(-90)"><text x="0" y="0" font-size="3.4" fill="#666" text-anchor="middle" font-weight="normal" font-style="normal" font-family="Liberation Sans" >Temperature (°C)</text></g><text x="903" y="348.5" font-size="3.2" fill="#754" text-anchor="start" font-weight="normal" font-style="normal" font-family="Liberation Sans" >stage I</text><text x="903" y="354" font-size="3.2" fill="#754" text-anchor="start" font-weight="normal" font-style="normal" font-family="Liberation Sans" >1 mbar</text><text x="928" y="347.5" font-size="3.2" fill="#754" text-anchor="start" font-weight="normal" font-style="normal" font-family="Liberation Sans" >stage II</text><text x="928" y="353" font-size="3.2" fill="#754" text-anchor="start" font-weight="normal" font-style="normal" font-family="Liberation Sans" >1 bar</text>
</svg>

<!-- title -->
<div class="a" style="left:272px;top:7px;font-size:36px;font-weight:bold;line-height:40px;color:#0a0a0a">Vacuum Approach-Physical Deposition</div>
<div class="a" style="left:94px;top:46px;width:865px;height:5px;background:#285a85"></div>
<div class="a" style="left:245px;top:62px;width:590px;height:35px;background:#dde9f2"></div>
<div class="a" style="left:255px;top:68px;font-size:22.4px;font-weight:bold;line-height:26px;color:#1a1a9a">Precursors: Metal <span style="color:#b01e22">(Cu/Zn/Sn)</span>, sulfide/selenide <span style="color:#b01e22">(SnS, ZnS)</span></div>

<!-- left bullets 1 -->
<div class="a t" style="left:80px;top:270px">The 12.62% record efficiency by vacuum process.<sup>[1]</sup></div>
<div class="a t" style="left:80px;top:286px">H<sub>2</sub>S gas is introduced into selenization to suppress the volatilization of Zn.</div>
<div class="a t" style="left:80px;top:302px">Precise <span class="r">optimization of the selenization process</span></div>

<!-- left bullets 2 -->
<div class="a t" style="left:87px;top:495px">The 11.0% record efficiency of pure-sulfide Cu<sub>2</sub>ZnSnS<sub>4</sub> cells.<sup>[3]</sup></div>
<div class="a t" style="left:87px;top:511px">By employing <span class="r">post-heat treatment for the heterojunction</span>.</div>

<!-- refs left -->
<div class="a rf" style="left:68px;top:553.5px">[1] Son D H, Kim S H, Kim S Y, et al. Journal of Materials Chemistry A, 2019, 7, 25279.</div>
<div class="a rf" style="left:68px;top:569px">[2] Li J, Huang Y, Huang J, et al. Advanced Materials, 2020, 32, 2005268.</div>

<!-- right bullets 1 -->
<div class="a t" style="left:611px;top:273px">The 12.5% record efficiency of pure-selenide Cu<sub>2</sub>ZnSnSe<sub>4</sub> cells.<sup>[2]</sup></div>
<div class="a t" style="left:611px;top:290px">The <span class="r">soft-selenization process</span> employed to prepare a local chemical environment</div>
<div class="a t" style="left:607px;top:306px">for the formation of CZTSe.</div>

<!-- right bullets 2 -->
<div class="a t" style="left:610px;top:480px"><span class="r">Introduce Ge layer to avoid Sn loss</span>.<sup>[4]</sup></div>
<div class="a t" style="left:610px;top:495.5px">Ge change&nbsp; the evolution of phases during selenization.</div>

<!-- refs right -->
<div class="a rf2" style="left:562px;top:548.6px">[3]Yan C, Huang J, Sun K, et al. Nature Energy, 2018, 3, 764.</div>
<div class="a rf2" style="left:562px;top:562.6px">[4]Giraldo S, Saucedo E, Neuschitzer M, et al. Energy &amp; Environmental Science, 2018, 11, 582.</div>
<svg style="position:absolute;left:0;top:0" width="1080" height="608" viewBox="0 0 1080 608">
<g><ellipse cx="824" cy="557" rx="11" ry="9.5" fill="#fff" stroke="#bdbdbd" stroke-width="1.4"/><ellipse cx="835" cy="563" rx="10" ry="8.5" fill="#fff" stroke="#bdbdbd" stroke-width="1.4"/><circle cx="820" cy="554" r="1.4" fill="#c4c4c4"/><circle cx="828" cy="554" r="1.4" fill="#c4c4c4"/><circle cx="832" cy="561" r="1.1" fill="#c4c4c4"/><circle cx="838" cy="561" r="1.1" fill="#c4c4c4"/><g transform="translate(849,545) scale(1.0)"><path d="M4,4 L6.5,8 M11,2 L11,10 M18,4 L15.5,8 M2,11 L20,11 M8,11 Q8,18 2,21 M14,11 L14,19 Q14,21 17,21 L20,20" fill="none" stroke="#b4b4b4" stroke-width="3.4" stroke-linecap="round" stroke-linejoin="round"/><path d="M4,4 L6.5,8 M11,2 L11,10 M18,4 L15.5,8 M2,11 L20,11 M8,11 Q8,18 2,21 M14,11 L14,19 Q14,21 17,21 L20,20" fill="none" stroke="#fff" stroke-width="2" stroke-linecap="round" stroke-linejoin="round"/></g><g transform="translate(874.4,545) scale(1.0)"><path d="M6,2 Q4,8 1,11 M4.5,7 L4.5,22 M8,8 L21,8 M14,2 Q14,14 8,21 M14,10 Q17,17 21,21 M17,3 L19,5" fill="none" stroke="#b4b4b4" stroke-width="3.4" stroke-linecap="round" stroke-linejoin="round"/><path d="M6,2 Q4,8 1,11 M4.5,7 L4.5,22 M8,8 L21,8 M14,2 Q14,14 8,21 M14,10 Q17,17 21,21 M17,3 L19,5" fill="none" stroke="#fff" stroke-width="2" stroke-linecap="round" stroke-linejoin="round"/></g><g transform="translate(899.8,545) scale(1.0)"><path d="M3,5 L19,5 M2,10 L20,10 M11,1 L9,14 L18,14 Q14,18 10,21 M7,17 L13,20" fill="none" stroke="#b4b4b4" stroke-width="3.4" stroke-linecap="round" stroke-linejoin="round"/><path d="M3,5 L19,5 M2,10 L20,10 M11,1 L9,14 L18,14 Q14,18 10,21 M7,17 L13,20" fill="none" stroke="#fff" stroke-width="2" stroke-linecap="round" stroke-linejoin="round"/></g><g transform="translate(925.2,545) scale(1.0)"><path d="M17,1 Q11,3 4,3.5 M2,7 L20,7 M11,2 L11,11 M10,7 Q7,10 2,11.5 M12,7 Q15,10 20,11.5 M2,15 L20,15 M9,11 Q6,18 4,21 Q11,20 17,16 M14,12 Q14,18 19,21" fill="none" stroke="#b4b4b4" stroke-width="3.4" stroke-linecap="round" stroke-linejoin="round"/><path d="M17,1 Q11,3 4,3.5 M2,7 L20,7 M11,2 L11,11 M10,7 Q7,10 2,11.5 M12,7 Q15,10 20,11.5 M2,15 L20,15 M9,11 Q6,18 4,21 Q11,20 17,16 M14,12 Q14,18 19,21" fill="none" stroke="#fff" stroke-width="2" stroke-linecap="round" stroke-linejoin="round"/></g><g transform="translate(950.6,545) scale(1.0)"><path d="M11,1 Q7,6 1,9 M11,1 Q15,6 21,9 M6,9 L16,9 M3,13 L19,13 M10,13 Q7,18 4,21 L17,20 M14,17 L18,21" fill="none" stroke="#b4b4b4" stroke-width="3.4" stroke-linecap="round" stroke-linejoin="round"/><path d="M11,1 Q7,6 1,9 M11,1 Q15,6 21,9 M6,9 L16,9 M3,13 L19,13 M10,13 Q7,18 4,21 L17,20 M14,17 L18,21" fill="none" stroke="#fff" stroke-width="2" stroke-linecap="round" stroke-linejoin="round"/></g><text x="976" y="566.5" font-size="27.5" fill="#fff" text-anchor="start" font-weight="normal" font-style="normal" font-family="Liberation Sans" stroke="#b8b8b8" stroke-width="0.9" textLength="67" lengthAdjust="spacingAndGlyphs">CPVS</text></g>
</svg>
</body></html>
